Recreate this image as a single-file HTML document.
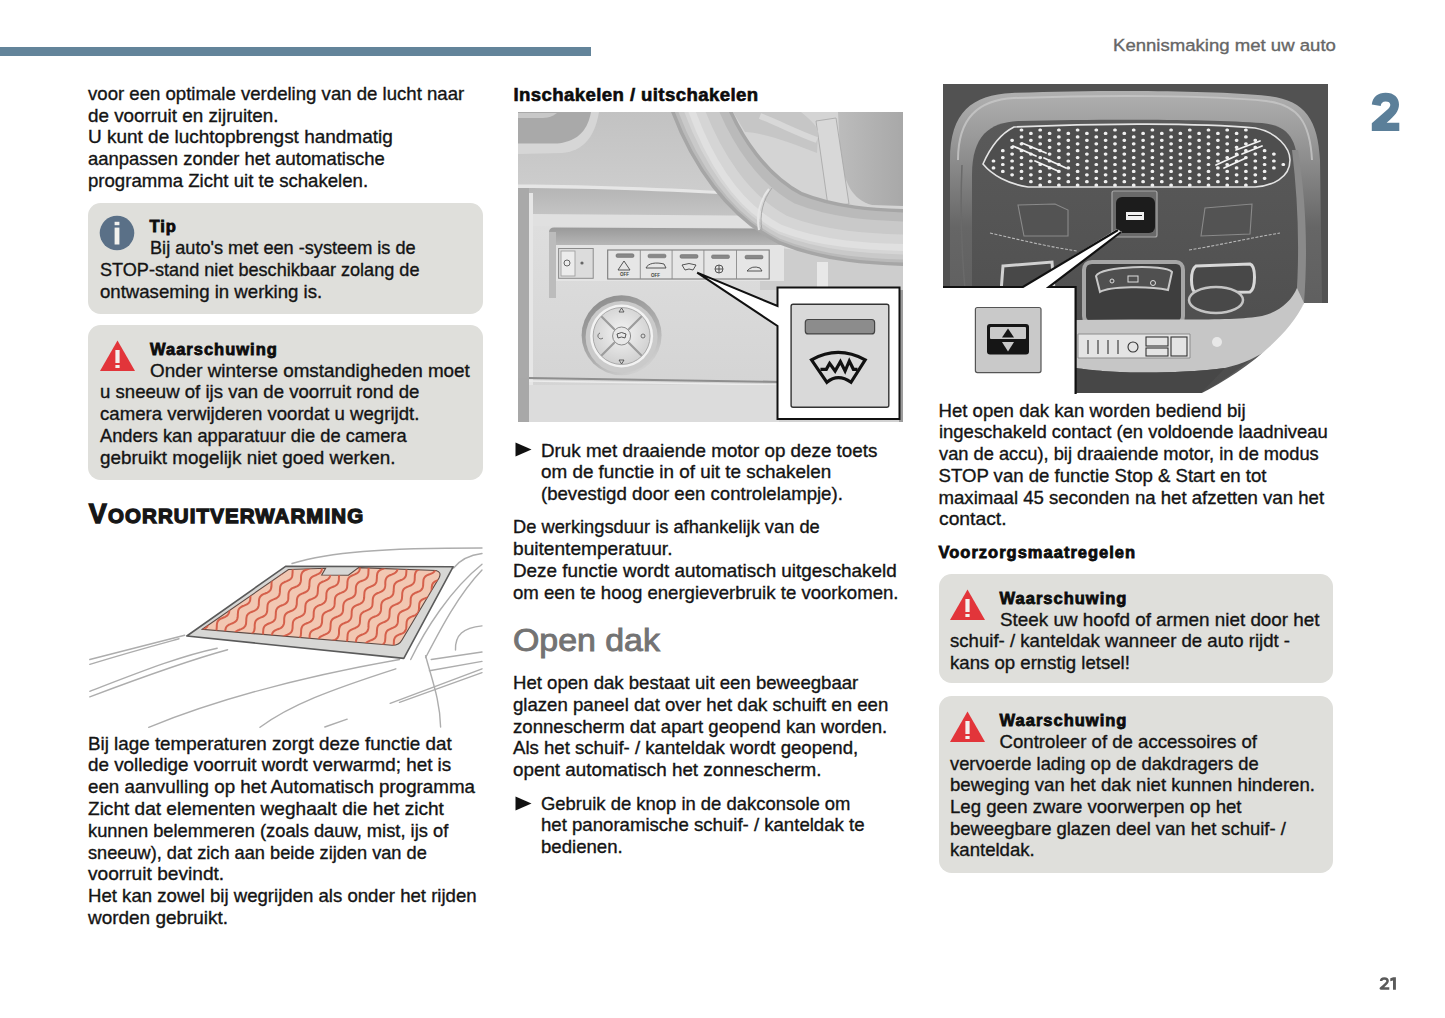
<!DOCTYPE html>
<html><head><meta charset="utf-8"><style>
html,body{margin:0;padding:0;background:#fff;}
body{width:1445px;height:1018px;position:relative;overflow:hidden;font-family:"Liberation Sans",sans-serif;}
.t{position:absolute;white-space:nowrap;-webkit-text-stroke:0.35px currentColor;}
.box{position:absolute;background:#dfdfdb;}
.ic{position:absolute;}
.im{position:absolute;}
</style></head><body>
<div style="position:absolute;left:0;top:46.6px;width:590.5px;height:9.4px;background:#63849a"></div>
<div class="t" style="left:1112.5px;top:35.34px;font-size:17.2px;line-height:20px;font-weight:400;color:#666666;transform:scaleX(1.08);transform-origin:0 0;">Kennismaking met uw auto</div>
<svg class="ic" style="left:1366px;top:88px" width="40" height="48" viewBox="1366 88 40 48"><path d="M1371.8,104.6 C1372.5,97 1378,92.7 1385.6,92.7 C1394,92.7 1399,97.5 1399,104.6 C1399,111 1395,116 1386.6,122.7 L1399.3,122.7 L1399.3,131 L1371.8,131 L1371.8,123.3 L1387.5,109.5 C1389.5,107.6 1390.3,106.3 1390.3,104.8 C1390.3,102.5 1388.5,101.4 1385.6,101.4 C1382.7,101.4 1381,103 1380.7,106 Z" fill="#5b7f99"/></svg>
<svg class="ic" style="left:1376px;top:974px" width="24" height="19" viewBox="1376 974 24 19"><path d="M1381.1,981 C1381.1,978.9 1382.6,978.4 1384.3,978.4 C1386.2,978.4 1387.6,979.3 1387.6,981.1 C1387.6,983.4 1384.2,985.4 1380.8,988.5 L1389.3,988.5" fill="none" stroke="#5a5a5a" stroke-width="2.5" stroke-linejoin="round"/><path d="M1390.3,978.3 L1393.3,977.2 L1395.9,977.2 L1395.9,989.7 L1393,989.7 L1393,980.5 L1390.3,981.3 Z" fill="#5a5a5a"/></svg>
<div class="t" style="left:88px;top:82.81px;font-size:18.6px;line-height:21.7px;font-weight:400;color:#141414;">voor een optimale verdeling van de lucht naar<br><span style="display:inline-block;transform:scaleX(1.0128);transform-origin:0 0">de voorruit en zijruiten.</span><br><span style="display:inline-block;transform:scaleX(1.0201);transform-origin:0 0">U kunt de luchtopbrengst handmatig</span><br><span style="display:inline-block;transform:scaleX(0.9900);transform-origin:0 0">aanpassen zonder het automatische</span><br>programma Zicht uit te schakelen.</div>
<div class="box" style="left:88px;top:203px;width:395px;height:111px;border-radius:12.5px"></div>
<svg class="ic" style="left:99.4px;top:215.3px" width="36" height="36" viewBox="0 0 36 36"><circle cx="18" cy="18" r="17.3" fill="#5a7087"/><rect x="15.6" y="6.8" width="4.8" height="3.4" fill="#f2f2ee"/><rect x="15.6" y="12.6" width="4.8" height="16.9" fill="#f2f2ee"/></svg><div class="t" style="left:149.5px;top:216.13px;font-size:16.5px;line-height:21.7px;font-weight:700;color:#0c0c0c;letter-spacing:1.0px;-webkit-text-stroke:0.8px #0c0c0c;">Tip</div>
<div class="t" style="left:149.5px;top:237.21px;font-size:18.6px;line-height:21.7px;font-weight:400;color:#141414;"><span style="display:inline-block;transform:scaleX(0.9758);transform-origin:0 0">Bij auto's met een -systeem is de</span></div>
<div class="t" style="left:100px;top:259.01px;font-size:18.6px;line-height:21.7px;font-weight:400;color:#141414;"><span style="display:inline-block;transform:scaleX(0.9729);transform-origin:0 0">STOP-stand niet beschikbaar zolang de</span><br>ontwaseming in werking is.</div>
<div class="box" style="left:88px;top:325px;width:395px;height:154.5px;border-radius:12.5px"></div>
<svg class="ic" style="left:100px;top:340px" width="36" height="32" viewBox="0 0 36 32"><path d="M17.5 0.5 L35 31 L0 31 Z" fill="#e2353a"/><rect x="15.4" y="10" width="4.2" height="13" fill="#f4f0ee"/><rect x="15.4" y="25" width="4.2" height="3" fill="#f4f0ee"/></svg><div class="t" style="left:150px;top:338.73px;font-size:16.5px;line-height:21.7px;font-weight:700;color:#0c0c0c;letter-spacing:1.0px;-webkit-text-stroke:0.8px #0c0c0c;">Waarschuwing</div>
<div class="t" style="left:150px;top:359.71px;font-size:18.6px;line-height:21.7px;font-weight:400;color:#141414;"><span style="display:inline-block;transform:scaleX(1.0146);transform-origin:0 0">Onder winterse omstandigheden moet</span></div>
<div class="t" style="left:100px;top:381.41px;font-size:18.6px;line-height:21.7px;font-weight:400;color:#141414;">u sneeuw of ijs van de voorruit rond de<br>camera verwijderen voordat u wegrijdt.<br><span style="display:inline-block;transform:scaleX(0.9821);transform-origin:0 0">Anders kan apparatuur die de camera</span><br><span style="display:inline-block;transform:scaleX(1.0137);transform-origin:0 0">gebruikt mogelijk niet goed werken.</span></div>
<div class="t" style="left:88.8px;top:499.14px;font-size:27px;line-height:30px;font-weight:700;color:#161616;letter-spacing:1.1px;-webkit-text-stroke:1.3px #161616;">V<span style="font-size:20.5px">OORRUITVERWARMING</span></div>
<svg class="im" style="left:88px;top:545px" width="396" height="184" viewBox="88 545 396 184">
<defs>

<clipPath id="cpw"><rect x="88" y="545" width="396" height="183"/></clipPath>
<clipPath id="cpg"><path d="M202.3,629.3 L288.5,569.5 L325.6,568.3 L321.7,575 L348.4,575.3 L358.6,567.6 L436,570.5 Q442,572 439,578 L402,640 Q399,645.5 392,645.3 Z"/></clipPath></defs>
<g clip-path="url(#cpw)" fill="none" stroke="#adadad" stroke-width="1.4" stroke-linecap="round">
<path d="M292,563.5 C330,552 380,548 482,548"/>
<path d="M453.6,568 C460,560 470,555 482,553.5"/>
<path d="M482,564.3 C450,590 425,630 410.7,659.5"/>
<path d="M482,569.9 C458,595 440,630 425.6,657.6"/>
<path d="M455.5,650 C455,635 463,627.8 482,625.9"/>
<path d="M431.2,659.5 L482,652"/>
<path d="M429.4,670.7 L482,661.4"/>
<path d="M425.6,655.8 C432,680 440,700 440.6,727"/>
<path d="M390.2,703.4 L482,668.8"/>
<path d="M399.5,702.4 L482,672.6"/>
<path d="M399.5,659.5 C340,670 240,690 148.7,727.3"/>
<path d="M395.8,668.8 C330,690 290,705 260,727.3"/>
<path d="M324.8,727 L347.2,719.2"/>
<path d="M89.8,659.5 L184.7,635.3"/>
<path d="M89.8,664.4 C130,652 160,644 179,638.8"/>
<path d="M89.8,691.3 C140,672 180,656 217.2,648.2"/>
<path d="M89.8,696.9 C140,678 190,660 227.6,649.8"/>
</g>
<path d="M285.6,566.3 L453.2,566.7 L403.8,658.4 L186.8,636 Z" fill="#d7d7d5" stroke="#5a5a5a" stroke-width="1.6" stroke-linejoin="round"/>
<path d="M202.3,629.3 L288.5,569.5 L325.6,568.3 L321.7,575 L348.4,575.3 L358.6,567.6 L436,570.5 Q442,572 439,578 L402,640 Q399,645.5 392,645.3 Z" fill="#f2c7b2" stroke="#5c4a44" stroke-width="1.1"/>
<g clip-path="url(#cpg)"><path d="M170.3,583.2 L171.4,582.7 L172.5,582.3 L173.6,581.8 L174.6,581.3 L175.6,580.8 L176.5,580.2 L177.2,579.5 L177.8,578.7 L178.2,577.7 L178.5,576.7 L178.6,575.6 L178.7,574.4 L178.8,573.3 L178.8,572.1 L178.9,570.9 L179.1,569.8 L179.3,568.8 L179.8,567.8 L180.3,567.0 L181.1,566.3 L181.9,565.7 L182.9,565.2 L184.0,564.7 L185.1,564.2 L186.2,563.8 L187.2,563.3 L188.2,562.8 L189.1,562.2 L189.8,561.5 L190.4,560.6 L190.8,559.7 L191.1,558.7 L191.3,557.6 L191.3,556.4 L191.4,555.2 M170.4,605.3 L171.4,604.7 L172.3,604.1 L173.0,603.4 L173.6,602.6 L174.0,601.7 L174.3,600.6 L174.5,599.5 L174.5,598.4 L174.6,597.2 L174.6,596.0 L174.7,594.8 L174.9,593.7 L175.2,592.7 L175.6,591.8 L176.2,591.0 L176.9,590.2 L177.8,589.6 L178.7,589.1 L179.8,588.6 L180.9,588.2 L182.0,587.7 L183.1,587.2 L184.0,586.7 L184.9,586.1 L185.6,585.4 L186.2,584.6 L186.6,583.6 L186.9,582.6 L187.1,581.5 L187.2,580.4 L187.2,579.2 L187.2,578.0 L187.3,576.8 L187.5,575.7 L187.8,574.7 L188.2,573.8 L188.8,572.9 L189.5,572.2 L190.4,571.6 L191.3,571.1 L192.4,570.6 L193.5,570.1 L194.6,569.7 L195.7,569.2 L196.7,568.7 L197.5,568.1 L198.2,567.4 L198.8,566.5 L199.2,565.6 L199.5,564.6 L199.7,563.5 L199.8,562.3 L199.8,561.1 L199.9,559.9 L200.0,558.8 L200.1,557.7 L200.4,556.7 L200.8,555.7 M170.1,624.6 L170.3,623.5 L170.4,622.3 L170.4,621.1 L170.4,619.9 L170.5,618.8 L170.7,617.7 L171.0,616.6 L171.4,615.7 L172.0,614.9 L172.7,614.2 L173.6,613.6 L174.5,613.0 L175.6,612.5 L176.7,612.1 L177.8,611.7 L178.9,611.2 L179.9,610.6 L180.7,610.0 L181.4,609.3 L182.0,608.5 L182.4,607.6 L182.7,606.5 L182.9,605.4 L183.0,604.3 L183.0,603.1 L183.1,601.9 L183.2,600.7 L183.3,599.6 L183.6,598.6 L184.0,597.7 L184.6,596.9 L185.3,596.2 L186.2,595.5 L187.2,595.0 L188.2,594.5 L189.3,594.1 L190.4,593.6 L191.5,593.2 L192.5,592.6 L193.3,592.0 L194.1,591.3 L194.6,590.5 L195.1,589.5 L195.3,588.5 L195.5,587.4 L195.6,586.3 L195.6,585.1 L195.7,583.9 L195.8,582.7 L195.9,581.6 L196.2,580.6 L196.6,579.7 L197.2,578.8 L197.9,578.1 L198.8,577.5 L199.8,577.0 L200.8,576.5 L202.0,576.1 L203.1,575.6 L204.1,575.1 L205.1,574.6 L206.0,574.0 L206.7,573.3 L207.3,572.4 L207.7,571.5 L208.0,570.5 L208.1,569.4 L208.2,568.2 L208.3,567.0 L208.3,565.9 L208.4,564.7 L208.6,563.6 L208.8,562.6 L209.3,561.6 L209.8,560.8 L210.6,560.1 L211.4,559.5 L212.4,559.0 L213.5,558.5 L214.6,558.0 L215.7,557.6 L216.7,557.1 L217.7,556.6 L218.6,556.0 L219.3,555.2 M170.4,637.0 L171.4,636.5 L172.5,636.0 L173.6,635.6 L174.7,635.1 L175.7,634.6 L176.5,634.0 L177.3,633.2 L177.8,632.4 L178.3,631.5 L178.5,630.5 L178.7,629.4 L178.8,628.2 L178.8,627.0 L178.9,625.8 L179.0,624.7 L179.1,623.6 L179.4,622.5 L179.8,621.6 L180.4,620.8 L181.1,620.1 L182.0,619.5 L183.0,618.9 L184.0,618.5 L185.2,618.0 L186.3,617.6 L187.3,617.1 L188.3,616.5 L189.2,615.9 L189.9,615.2 L190.5,614.4 L190.9,613.5 L191.2,612.5 L191.3,611.3 L191.4,610.2 L191.5,609.0 L191.5,607.8 L191.6,606.6 L191.8,605.5 L192.0,604.5 L192.5,603.6 L193.0,602.8 L193.8,602.1 L194.6,601.4 L195.6,600.9 L196.7,600.4 L197.8,600.0 L198.9,599.5 L199.9,599.1 L200.9,598.5 L201.8,597.9 L202.5,597.2 L203.1,596.4 L203.5,595.5 L203.8,594.4 L204.0,593.3 L204.0,592.2 L204.1,591.0 L204.1,589.8 L204.2,588.6 L204.4,587.5 L204.7,586.5 L205.1,585.6 L205.7,584.8 L206.4,584.0 L207.2,583.4 L208.2,582.9 L209.3,582.4 L210.4,582.0 L211.5,581.5 L212.6,581.0 L213.5,580.5 L214.4,579.9 L215.1,579.2 L215.7,578.4 L216.1,577.4 L216.4,576.4 L216.6,575.3 L216.7,574.1 L216.7,573.0 L216.7,571.8 L216.8,570.6 L217.0,569.5 L217.3,568.5 L217.7,567.6 L218.3,566.7 L219.0,566.0 L219.9,565.4 L220.8,564.9 L221.9,564.4 L223.0,563.9 L224.1,563.5 L225.2,563.0 L226.2,562.5 L227.0,561.9 L227.7,561.2 L228.3,560.3 L228.7,559.4 L229.0,558.4 L229.2,557.3 L229.3,556.1 M174.4,654.4 L174.5,653.3 L174.6,652.1 L174.7,650.9 L174.7,649.8 L174.8,648.6 L175.0,647.5 L175.2,646.5 L175.7,645.5 L176.2,644.7 L177.0,644.0 L177.8,643.4 L178.8,642.9 L179.9,642.4 L181.0,641.9 L182.1,641.5 L183.1,641.0 L184.1,640.5 L185.0,639.9 L185.7,639.1 L186.3,638.3 L186.7,637.4 L187.0,636.4 L187.2,635.3 L187.2,634.1 L187.3,632.9 L187.3,631.7 L187.4,630.6 L187.6,629.5 L187.9,628.4 L188.3,627.5 L188.9,626.7 L189.6,626.0 L190.4,625.4 L191.4,624.8 L192.5,624.4 L193.6,623.9 L194.7,623.5 L195.8,623.0 L196.7,622.5 L197.6,621.8 L198.3,621.1 L198.9,620.3 L199.3,619.4 L199.6,618.4 L199.8,617.3 L199.9,616.1 L199.9,614.9 L199.9,613.7 L200.0,612.6 L200.2,611.4 L200.5,610.4 L200.9,609.5 L201.5,608.7 L202.2,608.0 L203.1,607.4 L204.0,606.8 L205.1,606.3 L206.2,605.9 L207.3,605.4 L208.4,605.0 L209.4,604.4 L210.2,603.8 L210.9,603.1 L211.5,602.3 L211.9,601.4 L212.2,600.3 L212.4,599.2 L212.5,598.1 L212.5,596.9 L212.6,595.7 L212.6,594.5 L212.8,593.4 L213.1,592.4 L213.5,591.5 L214.1,590.7 L214.8,589.9 L215.7,589.3 L216.7,588.8 L217.7,588.3 L218.8,587.9 L219.9,587.4 L221.0,586.9 L222.0,586.4 L222.8,585.8 L223.6,585.1 L224.1,584.3 L224.6,583.3 L224.8,582.3 L225.0,581.2 L225.1,580.1 L225.1,578.9 L225.2,577.7 L225.3,576.5 L225.4,575.4 L225.7,574.4 L226.1,573.5 L226.7,572.6 L227.4,571.9 L228.3,571.3 L229.3,570.8 L230.3,570.3 L231.4,569.9 L232.6,569.4 L233.6,568.9 L234.6,568.4 L235.5,567.8 L236.2,567.1 L236.8,566.2 L237.2,565.3 L237.5,564.3 L237.6,563.2 L237.7,562.0 L237.8,560.8 L237.8,559.6 L237.9,558.5 L238.1,557.4 L238.3,556.4 L238.8,555.4 M183.2,654.5 L183.4,653.4 L183.7,652.4 L184.1,651.5 L184.7,650.6 L185.4,649.9 L186.3,649.3 L187.2,648.8 L188.3,648.3 L189.4,647.8 L190.5,647.4 L191.6,646.9 L192.6,646.4 L193.4,645.8 L194.1,645.1 L194.7,644.2 L195.1,643.3 L195.4,642.3 L195.6,641.2 L195.7,640.0 L195.7,638.8 L195.8,637.6 L195.8,636.5 L196.0,635.4 L196.3,634.4 L196.7,633.4 L197.3,632.6 L198.0,631.9 L198.9,631.3 L199.9,630.7 L200.9,630.3 L202.0,629.8 L203.1,629.4 L204.2,628.9 L205.2,628.4 L206.0,627.7 L206.8,627.0 L207.3,626.2 L207.8,625.3 L208.0,624.3 L208.2,623.2 L208.3,622.0 L208.3,620.8 L208.4,619.6 L208.5,618.5 L208.6,617.4 L208.9,616.3 L209.3,615.4 L209.9,614.6 L210.6,613.9 L211.5,613.3 L212.5,612.7 L213.5,612.2 L214.6,611.8 L215.8,611.4 L216.8,610.9 L217.8,610.3 L218.7,609.7 L219.4,609.0 L220.0,608.2 L220.4,607.3 L220.7,606.2 L220.8,605.1 L220.9,604.0 L221.0,602.8 L221.0,601.6 L221.1,600.4 L221.3,599.3 L221.5,598.3 L222.0,597.4 L222.5,596.6 L223.3,595.9 L224.1,595.2 L225.1,594.7 L226.2,594.2 L227.3,593.8 L228.4,593.3 L229.4,592.9 L230.4,592.3 L231.3,591.7 L232.0,591.0 L232.6,590.2 L233.0,589.2 L233.3,588.2 L233.4,587.1 L233.5,586.0 L233.6,584.8 L233.6,583.6 L233.7,582.4 L233.9,581.3 L234.2,580.3 L234.6,579.4 L235.2,578.5 L235.9,577.8 L236.7,577.2 L237.7,576.7 L238.8,576.2 L239.9,575.8 L241.0,575.3 L242.0,574.8 L243.0,574.3 L243.9,573.7 L244.6,573.0 L245.2,572.1 L245.6,571.2 L245.9,570.2 L246.1,569.1 L246.1,567.9 L246.2,566.7 L246.2,565.6 L246.3,564.4 L246.5,563.3 L246.8,562.3 L247.2,561.3 L247.8,560.5 L248.5,559.8 L249.4,559.2 L250.3,558.7 L251.4,558.2 L252.5,557.7 L253.6,557.3 L254.7,556.8 L255.6,556.3 L256.5,555.7 M195.7,654.7 L196.7,654.2 L197.8,653.8 L199.0,653.3 L200.0,652.8 L201.0,652.3 L201.9,651.7 L202.6,651.0 L203.2,650.1 L203.6,649.2 L203.9,648.2 L204.0,647.1 L204.1,645.9 L204.2,644.7 L204.2,643.6 L204.3,642.4 L204.5,641.3 L204.7,640.3 L205.2,639.3 L205.7,638.5 L206.5,637.8 L207.3,637.2 L208.3,636.7 L209.4,636.2 L210.5,635.7 L211.6,635.3 L212.6,634.8 L213.6,634.3 L214.5,633.7 L215.2,632.9 L215.8,632.1 L216.2,631.2 L216.5,630.2 L216.6,629.1 L216.7,627.9 L216.8,626.7 L216.8,625.5 L216.9,624.4 L217.1,623.3 L217.4,622.2 L217.8,621.3 L218.4,620.5 L219.1,619.8 L219.9,619.2 L220.9,618.6 L222.0,618.2 L223.1,617.7 L224.2,617.3 L225.2,616.8 L226.2,616.2 L227.1,615.6 L227.8,614.9 L228.4,614.1 L228.8,613.2 L229.1,612.2 L229.3,611.1 L229.3,609.9 L229.4,608.7 L229.4,607.5 L229.5,606.3 L229.7,605.2 L230.0,604.2 L230.4,603.3 L231.0,602.5 L231.7,601.8 L232.6,601.1 L233.5,600.6 L234.6,600.1 L235.7,599.7 L236.8,599.2 L237.9,598.8 L238.8,598.2 L239.7,597.6 L240.4,596.9 L241.0,596.1 L241.4,595.2 L241.7,594.1 L241.9,593.0 L242.0,591.9 L242.0,590.7 L242.1,589.5 L242.1,588.3 L242.3,587.2 L242.6,586.2 L243.0,585.3 L243.6,584.5 L244.3,583.7 L245.2,583.1 L246.2,582.6 L247.2,582.1 L248.3,581.7 L249.4,581.2 L250.5,580.7 L251.5,580.2 L252.3,579.6 L253.1,578.9 L253.6,578.1 L254.0,577.1 L254.3,576.1 L254.5,575.0 L254.6,573.8 L254.6,572.7 L254.7,571.5 L254.8,570.3 L254.9,569.2 L255.2,568.2 L255.6,567.3 L256.2,566.4 L256.9,565.7 L257.8,565.1 L258.8,564.6 L259.8,564.1 L260.9,563.6 L262.0,563.2 L263.1,562.7 L264.1,562.2 L264.9,561.6 L265.7,560.9 L266.2,560.0 L266.7,559.1 L267.0,558.1 L267.1,557.0 L267.2,555.8 M212.3,654.1 L212.5,653.0 L212.5,651.8 L212.6,650.6 L212.6,649.5 L212.7,648.3 L212.9,647.2 L213.2,646.2 L213.6,645.2 L214.2,644.4 L214.9,643.7 L215.8,643.1 L216.7,642.6 L217.8,642.1 L218.9,641.6 L220.0,641.2 L221.1,640.7 L222.0,640.2 L222.9,639.6 L223.6,638.8 L224.2,638.0 L224.6,637.1 L224.9,636.1 L225.1,635.0 L225.2,633.8 L225.2,632.6 L225.3,631.4 L225.3,630.3 L225.5,629.2 L225.8,628.2 L226.2,627.2 L226.8,626.4 L227.5,625.7 L228.4,625.1 L229.4,624.5 L230.4,624.1 L231.5,623.6 L232.6,623.2 L233.7,622.7 L234.7,622.2 L235.5,621.5 L236.3,620.8 L236.8,620.0 L237.2,619.1 L237.5,618.1 L237.7,617.0 L237.8,615.8 L237.8,614.6 L237.9,613.4 L238.0,612.3 L238.1,611.2 L238.4,610.1 L238.8,609.2 L239.4,608.4 L240.1,607.7 L241.0,607.1 L242.0,606.5 L243.0,606.0 L244.1,605.6 L245.2,605.1 L246.3,604.7 L247.3,604.1 L248.1,603.5 L248.9,602.8 L249.4,602.0 L249.9,601.1 L250.2,600.0 L250.3,598.9 L250.4,597.8 L250.4,596.6 L250.5,595.4 L250.6,594.2 L250.7,593.1 L251.0,592.1 L251.5,591.2 L252.0,590.4 L252.7,589.7 L253.6,589.0 L254.6,588.5 L255.7,588.0 L256.8,587.6 L257.9,587.1 L258.9,586.6 L259.9,586.1 L260.8,585.5 L261.5,584.8 L262.1,584.0 L262.5,583.0 L262.8,582.0 L262.9,580.9 L263.0,579.8 L263.1,578.6 L263.1,577.4 L263.2,576.2 L263.4,575.1 L263.6,574.1 L264.1,573.2 L264.6,572.3 L265.4,571.6 L266.2,571.0 L267.2,570.5 L268.3,570.0 L269.4,569.6 L270.5,569.1 L271.5,568.6 L272.5,568.1 L273.4,567.5 L274.1,566.8 L274.7,565.9 L275.1,565.0 L275.4,564.0 L275.6,562.9 L275.6,561.7 L275.7,560.5 L275.7,559.4 L275.8,558.2 L276.0,557.1 L276.3,556.1 L276.7,555.1 M221.2,654.2 L221.3,653.1 L221.6,652.1 L222.0,651.2 L222.6,650.3 L223.3,649.6 L224.2,649.0 L225.2,648.5 L226.2,648.0 L227.3,647.5 L228.4,647.1 L229.5,646.6 L230.5,646.1 L231.3,645.5 L232.1,644.8 L232.6,643.9 L233.1,643.0 L233.4,642.0 L233.5,640.9 L233.6,639.7 L233.6,638.5 L233.7,637.3 L233.8,636.2 L233.9,635.1 L234.2,634.1 L234.7,633.1 L235.2,632.3 L235.9,631.6 L236.8,631.0 L237.8,630.4 L238.9,630.0 L240.0,629.5 L241.1,629.1 L242.1,628.6 L243.1,628.1 L244.0,627.4 L244.7,626.7 L245.3,625.9 L245.7,625.0 L246.0,624.0 L246.1,622.9 L246.2,621.7 L246.3,620.5 L246.3,619.3 L246.4,618.2 L246.6,617.1 L246.8,616.0 L247.3,615.1 L247.8,614.3 L248.6,613.6 L249.4,613.0 L250.4,612.4 L251.5,612.0 L252.6,611.5 L253.7,611.1 L254.7,610.6 L255.7,610.0 L256.6,609.4 L257.3,608.7 L257.9,607.9 L258.3,607.0 L258.6,605.9 L258.8,604.8 L258.8,603.7 L258.9,602.5 L258.9,601.3 L259.0,600.1 L259.2,599.0 L259.5,598.0 L259.9,597.1 L260.5,596.3 L261.2,595.6 L262.1,594.9 L263.0,594.4 L264.1,593.9 L265.2,593.5 L266.3,593.0 L267.4,592.6 L268.3,592.0 L269.2,591.4 L269.9,590.7 L270.5,589.9 L270.9,588.9 L271.2,587.9 L271.4,586.8 L271.5,585.7 L271.5,584.5 L271.5,583.3 L271.6,582.1 L271.8,581.0 L272.1,580.0 L272.5,579.1 L273.1,578.3 L273.8,577.5 L274.7,576.9 L275.6,576.4 L276.7,575.9 L277.8,575.5 L278.9,575.0 L280.0,574.5 L281.0,574.0 L281.8,573.4 L282.5,572.7 L283.1,571.9 L283.5,570.9 L283.8,569.9 L284.0,568.8 L284.1,567.6 L284.1,566.5 L284.2,565.3 L284.3,564.1 L284.4,563.0 L284.7,562.0 L285.1,561.0 L285.7,560.2 L286.4,559.5 L287.3,558.9 L288.3,558.4 L289.3,557.9 L290.4,557.4 L291.5,557.0 L292.6,556.5 L293.6,556.0 L294.4,555.4 M232.6,654.9 L233.6,654.4 L234.7,653.9 L235.8,653.5 L236.9,653.0 L237.9,652.5 L238.9,652.0 L239.8,651.4 L240.5,650.7 L241.1,649.8 L241.5,648.9 L241.8,647.9 L242.0,646.8 L242.0,645.6 L242.1,644.4 L242.1,643.3 L242.2,642.1 L242.4,641.0 L242.7,640.0 L243.1,639.0 L243.7,638.2 L244.4,637.5 L245.3,636.9 L246.2,636.4 L247.3,635.9 L248.4,635.4 L249.5,635.0 L250.6,634.5 L251.5,634.0 L252.4,633.4 L253.1,632.6 L253.7,631.8 L254.1,630.9 L254.4,629.9 L254.6,628.8 L254.7,627.6 L254.7,626.4 L254.7,625.2 L254.8,624.1 L255.0,623.0 L255.3,621.9 L255.7,621.0 L256.3,620.2 L257.0,619.5 L257.9,618.9 L258.8,618.3 L259.9,617.9 L261.0,617.4 L262.1,617.0 L263.2,616.5 L264.2,616.0 L265.0,615.3 L265.7,614.6 L266.3,613.8 L266.7,612.9 L267.0,611.9 L267.2,610.8 L267.3,609.6 L267.3,608.4 L267.4,607.2 L267.5,606.0 L267.6,604.9 L267.9,603.9 L268.3,603.0 L268.9,602.2 L269.6,601.5 L270.5,600.9 L271.5,600.3 L272.5,599.8 L273.6,599.4 L274.7,598.9 L275.8,598.5 L276.8,597.9 L277.6,597.3 L278.4,596.6 L278.9,595.8 L279.4,594.9 L279.6,593.8 L279.8,592.7 L279.9,591.6 L279.9,590.4 L280.0,589.2 L280.1,588.0 L280.2,586.9 L280.5,585.9 L280.9,585.0 L281.5,584.2 L282.2,583.4 L283.1,582.8 L284.1,582.3 L285.1,581.8 L286.3,581.4 L287.4,580.9 L288.4,580.4 L289.4,579.9 L290.3,579.3 L291.0,578.6 L291.6,577.8 L292.0,576.8 L292.3,575.8 L292.4,574.7 L292.5,573.5 L292.6,572.4 L292.6,571.2 L292.7,570.0 L292.9,568.9 L293.1,567.9 L293.6,567.0 L294.1,566.1 L294.9,565.4 L295.7,564.8 L296.7,564.3 L297.8,563.8 L298.9,563.3 L300.0,562.9 L301.0,562.4 L302.0,561.9 L302.9,561.3 L303.6,560.6 L304.2,559.7 L304.6,558.8 L304.9,557.8 L305.1,556.7 L305.1,555.5 M249.9,654.8 L250.2,653.8 L250.4,652.7 L250.5,651.5 L250.5,650.4 L250.6,649.2 L250.7,648.0 L250.8,646.9 L251.1,645.9 L251.5,644.9 L252.1,644.1 L252.8,643.4 L253.7,642.8 L254.7,642.3 L255.7,641.8 L256.8,641.3 L257.9,640.9 L259.0,640.4 L260.0,639.9 L260.8,639.3 L261.6,638.6 L262.1,637.7 L262.6,636.8 L262.8,635.8 L263.0,634.7 L263.1,633.5 L263.1,632.3 L263.2,631.1 L263.3,630.0 L263.4,628.9 L263.7,627.9 L264.1,626.9 L264.7,626.1 L265.4,625.4 L266.3,624.8 L267.3,624.2 L268.3,623.8 L269.5,623.3 L270.6,622.9 L271.6,622.4 L272.6,621.9 L273.5,621.2 L274.2,620.5 L274.8,619.7 L275.2,618.8 L275.5,617.8 L275.6,616.7 L275.7,615.5 L275.8,614.3 L275.8,613.1 L275.9,612.0 L276.1,610.9 L276.3,609.8 L276.8,608.9 L277.3,608.1 L278.1,607.4 L278.9,606.8 L279.9,606.2 L281.0,605.7 L282.1,605.3 L283.2,604.9 L284.2,604.4 L285.2,603.8 L286.1,603.2 L286.8,602.5 L287.4,601.7 L287.8,600.8 L288.1,599.7 L288.3,598.6 L288.3,597.5 L288.4,596.3 L288.4,595.1 L288.5,593.9 L288.7,592.8 L289.0,591.8 L289.4,590.9 L290.0,590.1 L290.7,589.4 L291.5,588.7 L292.5,588.2 L293.6,587.7 L294.7,587.3 L295.8,586.8 L296.9,586.4 L297.8,585.8 L298.7,585.2 L299.4,584.5 L300.0,583.7 L300.4,582.7 L300.7,581.7 L300.9,580.6 L301.0,579.5 L301.0,578.3 L301.0,577.1 L301.1,575.9 L301.3,574.8 L301.6,573.8 L302.0,572.9 L302.6,572.0 L303.3,571.3 L304.2,570.7 L305.1,570.2 L306.2,569.7 L307.3,569.3 L308.4,568.8 L309.5,568.3 L310.5,567.8 L311.3,567.2 L312.0,566.5 L312.6,565.6 L313.0,564.7 L313.3,563.7 L313.5,562.6 L313.6,561.4 L313.6,560.2 L313.7,559.1 L313.7,557.9 L313.9,556.8 L314.2,555.8 M259.1,653.9 L259.3,652.8 L259.5,651.8 L260.0,650.9 L260.5,650.0 L261.3,649.3 L262.1,648.7 L263.1,648.2 L264.2,647.7 L265.3,647.2 L266.4,646.8 L267.4,646.3 L268.4,645.8 L269.3,645.2 L270.0,644.5 L270.6,643.6 L271.0,642.7 L271.3,641.7 L271.5,640.6 L271.5,639.4 L271.6,638.2 L271.6,637.0 L271.7,635.9 L271.9,634.8 L272.2,633.8 L272.6,632.8 L273.2,632.0 L273.9,631.3 L274.7,630.7 L275.7,630.2 L276.8,629.7 L277.9,629.2 L279.0,628.8 L280.1,628.3 L281.0,627.8 L281.9,627.2 L282.6,626.4 L283.2,625.6 L283.6,624.7 L283.9,623.7 L284.1,622.6 L284.2,621.4 L284.2,620.2 L284.2,619.0 L284.3,617.9 L284.5,616.8 L284.8,615.7 L285.2,614.8 L285.8,614.0 L286.5,613.3 L287.4,612.7 L288.3,612.1 L289.4,611.7 L290.5,611.2 L291.6,610.8 L292.7,610.3 L293.7,609.7 L294.5,609.1 L295.2,608.4 L295.8,607.6 L296.2,606.7 L296.5,605.6 L296.7,604.5 L296.8,603.4 L296.8,602.2 L296.9,601.0 L296.9,599.8 L297.1,598.7 L297.4,597.7 L297.8,596.8 L298.4,596.0 L299.1,595.3 L300.0,594.6 L301.0,594.1 L302.0,593.6 L303.1,593.2 L304.2,592.7 L305.3,592.3 L306.3,591.7 L307.1,591.1 L307.9,590.4 L308.4,589.6 L308.9,588.7 L309.1,587.6 L309.3,586.5 L309.4,585.4 L309.4,584.2 L309.5,583.0 L309.6,581.8 L309.7,580.7 L310.0,579.7 L310.4,578.8 L311.0,578.0 L311.7,577.2 L312.6,576.6 L313.6,576.1 L314.6,575.6 L315.7,575.2 L316.8,574.7 L317.9,574.2 L318.9,573.7 L319.8,573.1 L320.5,572.4 L321.1,571.6 L321.5,570.6 L321.8,569.6 L321.9,568.5 L322.0,567.3 L322.1,566.2 L322.1,565.0 L322.2,563.8 L322.4,562.7 L322.6,561.7 L323.1,560.8 L323.6,559.9 L324.4,559.2 L325.2,558.6 L326.2,558.1 L327.3,557.6 L328.4,557.1 L329.5,556.7 L330.5,556.2 L331.5,555.7 L332.4,555.1 M270.6,654.6 L271.5,654.1 L272.6,653.6 L273.7,653.2 L274.8,652.7 L275.9,652.2 L276.9,651.7 L277.7,651.1 L278.4,650.4 L279.0,649.5 L279.4,648.6 L279.7,647.6 L279.9,646.5 L280.0,645.3 L280.0,644.1 L280.1,643.0 L280.1,641.8 L280.3,640.7 L280.6,639.7 L281.0,638.7 L281.6,637.9 L282.3,637.2 L283.2,636.6 L284.2,636.1 L285.2,635.6 L286.3,635.1 L287.4,634.7 L288.5,634.2 L289.5,633.7 L290.3,633.1 L291.1,632.3 L291.6,631.5 L292.1,630.6 L292.3,629.6 L292.5,628.5 L292.6,627.3 L292.6,626.1 L292.7,624.9 L292.8,623.8 L292.9,622.7 L293.2,621.6 L293.6,620.7 L294.2,619.9 L294.9,619.2 L295.8,618.6 L296.8,618.0 L297.8,617.6 L298.9,617.1 L300.0,616.7 L301.1,616.2 L302.1,615.7 L303.0,615.0 L303.7,614.3 L304.3,613.5 L304.7,612.6 L305.0,611.6 L305.1,610.5 L305.2,609.3 L305.3,608.1 L305.3,606.9 L305.4,605.8 L305.6,604.6 L305.8,603.6 L306.3,602.7 L306.8,601.9 L307.6,601.2 L308.4,600.6 L309.4,600.0 L310.5,599.5 L311.6,599.1 L312.7,598.6 L313.7,598.2 L314.7,597.6 L315.6,597.0 L316.3,596.3 L316.9,595.5 L317.3,594.6 L317.6,593.5 L317.7,592.4 L317.8,591.3 L317.9,590.1 L317.9,588.9 L318.0,587.7 L318.2,586.6 L318.5,585.6 L318.9,584.7 L319.4,583.9 L320.2,583.1 L321.0,582.5 L322.0,582.0 L323.1,581.5 L324.2,581.1 L325.3,580.6 L326.3,580.1 L327.3,579.6 L328.2,579.0 L328.9,578.3 L329.5,577.5 L329.9,576.5 L330.2,575.5 L330.4,574.4 L330.4,573.3 L330.5,572.1 L330.5,570.9 L330.6,569.7 L330.8,568.6 L331.1,567.6 L331.5,566.7 L332.1,565.8 L332.8,565.1 L333.7,564.5 L334.6,564.0 L335.7,563.5 L336.8,563.0 L337.9,562.6 L339.0,562.1 L339.9,561.6 L340.8,561.0 L341.5,560.3 L342.1,559.4 L342.5,558.5 L342.8,557.5 L343.0,556.4 L343.1,555.2 M287.9,654.5 L288.2,653.5 L288.3,652.4 L288.4,651.2 L288.5,650.1 L288.5,648.9 L288.6,647.7 L288.8,646.6 L289.0,645.6 L289.5,644.7 L290.0,643.8 L290.8,643.1 L291.6,642.5 L292.6,642.0 L293.7,641.5 L294.8,641.0 L295.9,640.6 L296.9,640.1 L297.9,639.6 L298.8,639.0 L299.5,638.3 L300.1,637.4 L300.5,636.5 L300.8,635.5 L300.9,634.4 L301.0,633.2 L301.1,632.0 L301.1,630.8 L301.2,629.7 L301.4,628.6 L301.7,627.6 L302.1,626.6 L302.6,625.8 L303.4,625.1 L304.2,624.5 L305.2,623.9 L306.3,623.5 L307.4,623.0 L308.5,622.6 L309.5,622.1 L310.5,621.6 L311.4,620.9 L312.1,620.2 L312.7,619.4 L313.1,618.5 L313.4,617.5 L313.6,616.4 L313.6,615.2 L313.7,614.0 L313.7,612.8 L313.8,611.7 L314.0,610.6 L314.3,609.5 L314.7,608.6 L315.3,607.8 L316.0,607.1 L316.9,606.5 L317.8,605.9 L318.9,605.4 L320.0,605.0 L321.1,604.6 L322.2,604.1 L323.1,603.5 L324.0,602.9 L324.7,602.2 L325.3,601.4 L325.7,600.5 L326.0,599.4 L326.2,598.3 L326.3,597.2 L326.3,596.0 L326.4,594.8 L326.4,593.6 L326.6,592.5 L326.9,591.5 L327.3,590.6 L327.9,589.8 L328.6,589.1 L329.5,588.4 L330.5,587.9 L331.5,587.4 L332.6,587.0 L333.7,586.5 L334.8,586.1 L335.8,585.5 L336.6,584.9 L337.4,584.2 L337.9,583.4 L338.3,582.4 L338.6,581.4 L338.8,580.3 L338.9,579.2 L338.9,578.0 L339.0,576.8 L339.1,575.6 L339.2,574.5 L339.5,573.5 L339.9,572.6 L340.5,571.7 L341.2,571.0 L342.1,570.4 L343.1,569.9 L344.1,569.4 L345.2,569.0 L346.3,568.5 L347.4,568.0 L348.4,567.5 L349.2,566.9 L350.0,566.2 L350.5,565.3 L351.0,564.4 L351.2,563.4 L351.4,562.3 L351.5,561.1 L351.5,559.9 L351.6,558.8 L351.7,557.6 L351.8,556.5 L352.1,555.5 M296.9,654.8 L297.0,653.6 L297.2,652.5 L297.5,651.5 L297.9,650.6 L298.5,649.7 L299.2,649.0 L300.1,648.4 L301.0,647.9 L302.1,647.4 L303.2,647.0 L304.3,646.5 L305.4,646.0 L306.3,645.5 L307.2,644.9 L307.9,644.2 L308.5,643.3 L308.9,642.4 L309.2,641.4 L309.4,640.3 L309.5,639.1 L309.5,637.9 L309.6,636.7 L309.6,635.6 L309.8,634.5 L310.1,633.5 L310.5,632.5 L311.1,631.7 L311.8,631.0 L312.7,630.4 L313.7,629.9 L314.7,629.4 L315.8,628.9 L316.9,628.5 L318.0,628.0 L319.0,627.5 L319.8,626.9 L320.6,626.1 L321.1,625.3 L321.5,624.4 L321.8,623.4 L322.0,622.3 L322.1,621.1 L322.1,619.9 L322.2,618.7 L322.3,617.6 L322.4,616.5 L322.7,615.4 L323.1,614.5 L323.7,613.7 L324.4,613.0 L325.3,612.4 L326.3,611.8 L327.3,611.4 L328.4,610.9 L329.5,610.5 L330.6,610.0 L331.6,609.4 L332.4,608.8 L333.2,608.1 L333.7,607.3 L334.2,606.4 L334.4,605.4 L334.6,604.2 L334.7,603.1 L334.7,601.9 L334.8,600.7 L334.9,599.5 L335.0,598.4 L335.3,597.4 L335.7,596.5 L336.3,595.7 L337.0,595.0 L337.9,594.3 L338.9,593.8 L340.0,593.3 L341.1,592.9 L342.2,592.4 L343.2,592.0 L344.2,591.4 L345.1,590.8 L345.8,590.1 L346.4,589.3 L346.8,588.4 L347.1,587.3 L347.2,586.2 L347.3,585.1 L347.4,583.9 L347.4,582.7 L347.5,581.5 L347.7,580.4 L347.9,579.4 L348.4,578.5 L348.9,577.7 L349.7,576.9 L350.5,576.3 L351.5,575.8 L352.6,575.3 L353.7,574.9 L354.8,574.4 L355.8,573.9 L356.8,573.4 L357.7,572.8 L358.4,572.1 L359.0,571.3 L359.4,570.3 L359.7,569.3 L359.9,568.2 L359.9,567.0 L360.0,565.9 L360.0,564.7 L360.1,563.5 L360.3,562.4 L360.6,561.4 L361.0,560.5 L361.6,559.6 L362.3,558.9 L363.1,558.3 L364.1,557.8 L365.2,557.3 L366.3,556.8 L367.4,556.4 L368.5,555.9 L369.4,555.4 M307.6,654.9 L308.5,654.3 L309.5,653.8 L310.5,653.3 L311.6,652.9 L312.7,652.4 L313.8,651.9 L314.8,651.4 L315.6,650.8 L316.4,650.1 L316.9,649.2 L317.4,648.3 L317.6,647.3 L317.8,646.2 L317.9,645.0 L317.9,643.8 L318.0,642.7 L318.1,641.5 L318.2,640.4 L318.5,639.4 L318.9,638.4 L319.5,637.6 L320.2,636.9 L321.1,636.3 L322.1,635.8 L323.2,635.3 L324.3,634.8 L325.4,634.4 L326.4,633.9 L327.4,633.4 L328.3,632.8 L329.0,632.0 L329.6,631.2 L330.0,630.3 L330.3,629.3 L330.4,628.2 L330.5,627.0 L330.6,625.8 L330.6,624.6 L330.7,623.5 L330.9,622.4 L331.1,621.3 L331.6,620.4 L332.1,619.6 L332.9,618.9 L333.7,618.3 L334.7,617.7 L335.8,617.3 L336.9,616.8 L338.0,616.4 L339.0,615.9 L340.0,615.4 L340.9,614.7 L341.6,614.0 L342.2,613.2 L342.6,612.3 L342.9,611.3 L343.1,610.2 L343.1,609.0 L343.2,607.8 L343.2,606.6 L343.3,605.5 L343.5,604.4 L343.8,603.3 L344.2,602.4 L344.8,601.6 L345.5,600.9 L346.3,600.3 L347.3,599.7 L348.4,599.2 L349.5,598.8 L350.6,598.3 L351.7,597.9 L352.6,597.3 L353.5,596.7 L354.2,596.0 L354.8,595.2 L355.2,594.3 L355.5,593.2 L355.7,592.1 L355.8,591.0 L355.8,589.8 L355.8,588.6 L355.9,587.4 L356.1,586.3 L356.4,585.3 L356.8,584.4 L357.4,583.6 L358.1,582.8 L359.0,582.2 L359.9,581.7 L361.0,581.2 L362.1,580.8 L363.2,580.3 L364.3,579.8 L365.3,579.3 L366.1,578.7 L366.8,578.0 L367.4,577.2 L367.8,576.2 L368.1,575.2 L368.3,574.1 L368.4,573.0 L368.4,571.8 L368.5,570.6 L368.5,569.4 L368.7,568.3 L369.0,567.3 L369.4,566.4 L370.0,565.5 L370.7,564.8 L371.6,564.2 L372.6,563.7 L373.6,563.2 L374.7,562.8 L375.8,562.3 L376.9,561.8 L377.9,561.3 L378.7,560.7 L379.5,560.0 L380.0,559.1 L380.5,558.2 L380.7,557.2 L380.9,556.1 M325.8,654.2 L326.1,653.2 L326.3,652.1 L326.3,650.9 L326.4,649.8 L326.4,648.6 L326.5,647.4 L326.7,646.3 L327.0,645.3 L327.4,644.4 L328.0,643.5 L328.7,642.8 L329.5,642.2 L330.5,641.7 L331.6,641.2 L332.7,640.7 L333.8,640.3 L334.9,639.8 L335.8,639.3 L336.7,638.7 L337.4,638.0 L338.0,637.1 L338.4,636.2 L338.7,635.2 L338.9,634.1 L339.0,632.9 L339.0,631.7 L339.0,630.5 L339.1,629.4 L339.3,628.3 L339.6,627.3 L340.0,626.3 L340.6,625.5 L341.3,624.8 L342.2,624.2 L343.1,623.6 L344.2,623.2 L345.3,622.7 L346.4,622.3 L347.5,621.8 L348.5,621.3 L349.3,620.6 L350.0,619.9 L350.6,619.1 L351.0,618.2 L351.3,617.2 L351.5,616.1 L351.6,614.9 L351.6,613.7 L351.7,612.5 L351.7,611.4 L351.9,610.3 L352.2,609.2 L352.6,608.3 L353.2,607.5 L353.9,606.8 L354.8,606.2 L355.8,605.6 L356.8,605.1 L357.9,604.7 L359.0,604.3 L360.1,603.8 L361.1,603.2 L361.9,602.6 L362.7,601.9 L363.2,601.1 L363.7,600.2 L363.9,599.1 L364.1,598.0 L364.2,596.9 L364.2,595.7 L364.3,594.5 L364.4,593.3 L364.5,592.2 L364.8,591.2 L365.2,590.3 L365.8,589.5 L366.5,588.8 L367.4,588.1 L368.4,587.6 L369.4,587.1 L370.5,586.7 L371.7,586.2 L372.7,585.8 L373.7,585.2 L374.6,584.6 L375.3,583.9 L375.9,583.1 L376.3,582.1 L376.6,581.1 L376.7,580.0 L376.8,578.9 L376.9,577.7 L376.9,576.5 L377.0,575.3 L377.2,574.2 L377.4,573.2 L377.9,572.3 L378.4,571.4 L379.2,570.7 L380.0,570.1 L381.0,569.6 L382.1,569.1 L383.2,568.7 L384.3,568.2 L385.3,567.7 L386.3,567.2 L387.2,566.6 L387.9,565.9 L388.5,565.1 L388.9,564.1 L389.2,563.1 L389.3,562.0 L389.4,560.8 L389.5,559.6 L389.5,558.5 L389.6,557.3 L389.8,556.2 L390.1,555.2 M334.9,654.5 L334.9,653.3 L335.1,652.2 L335.4,651.2 L335.8,650.3 L336.4,649.4 L337.1,648.7 L338.0,648.1 L339.0,647.6 L340.0,647.1 L341.1,646.7 L342.2,646.2 L343.3,645.7 L344.3,645.2 L345.1,644.6 L345.9,643.9 L346.4,643.0 L346.9,642.1 L347.1,641.1 L347.3,640.0 L347.4,638.8 L347.4,637.6 L347.5,636.5 L347.6,635.3 L347.7,634.2 L348.0,633.2 L348.4,632.2 L349.0,631.4 L349.7,630.7 L350.6,630.1 L351.6,629.6 L352.6,629.1 L353.7,628.6 L354.9,628.2 L355.9,627.7 L356.9,627.2 L357.8,626.6 L358.5,625.8 L359.1,625.0 L359.5,624.1 L359.8,623.1 L359.9,622.0 L360.0,620.8 L360.1,619.6 L360.1,618.4 L360.2,617.3 L360.4,616.2 L360.6,615.1 L361.1,614.2 L361.6,613.4 L362.4,612.7 L363.2,612.1 L364.2,611.5 L365.3,611.1 L366.4,610.6 L367.5,610.2 L368.5,609.7 L369.5,609.1 L370.4,608.5 L371.1,607.8 L371.7,607.0 L372.1,606.1 L372.4,605.1 L372.5,604.0 L372.6,602.8 L372.7,601.6 L372.7,600.4 L372.8,599.2 L373.0,598.1 L373.3,597.1 L373.7,596.2 L374.3,595.4 L375.0,594.7 L375.8,594.0 L376.8,593.5 L377.9,593.0 L379.0,592.6 L380.1,592.1 L381.2,591.7 L382.1,591.1 L383.0,590.5 L383.7,589.8 L384.3,589.0 L384.7,588.1 L385.0,587.0 L385.2,585.9 L385.3,584.8 L385.3,583.6 L385.3,582.4 L385.4,581.2 L385.6,580.1 L385.9,579.1 L386.3,578.2 L386.9,577.4 L387.6,576.6 L388.5,576.0 L389.4,575.5 L390.5,575.0 L391.6,574.6 L392.7,574.1 L393.8,573.6 L394.7,573.1 L395.6,572.5 L396.3,571.8 L396.9,571.0 L397.3,570.0 L397.6,569.0 L397.8,567.9 L397.9,566.7 L397.9,565.6 L398.0,564.4 L398.0,563.2 L398.2,562.1 L398.5,561.1 L398.9,560.2 L399.5,559.3 L400.2,558.6 L401.1,558.0 L402.1,557.5 L403.1,557.0 L404.2,556.5 L405.3,556.1 L406.4,555.6 L407.4,555.1 M345.6,654.6 L346.4,654.0 L347.4,653.5 L348.5,653.0 L349.6,652.6 L350.7,652.1 L351.7,651.6 L352.7,651.1 L353.6,650.5 L354.3,649.8 L354.9,649.0 L355.3,648.0 L355.6,647.0 L355.7,645.9 L355.8,644.7 L355.9,643.5 L355.9,642.4 L356.0,641.2 L356.2,640.1 L356.5,639.1 L356.9,638.1 L357.5,637.3 L358.2,636.6 L359.0,636.0 L360.0,635.5 L361.1,635.0 L362.2,634.5 L363.3,634.1 L364.4,633.6 L365.3,633.1 L366.2,632.5 L366.9,631.7 L367.5,630.9 L367.9,630.0 L368.2,629.0 L368.4,627.9 L368.5,626.7 L368.5,625.5 L368.5,624.3 L368.6,623.2 L368.8,622.1 L369.1,621.1 L369.5,620.1 L370.1,619.3 L370.8,618.6 L371.7,618.0 L372.6,617.4 L373.7,617.0 L374.8,616.5 L375.9,616.1 L377.0,615.6 L377.9,615.1 L378.8,614.4 L379.5,613.7 L380.1,612.9 L380.5,612.0 L380.8,611.0 L381.0,609.9 L381.1,608.7 L381.1,607.5 L381.2,606.3 L381.2,605.2 L381.4,604.1 L381.7,603.0 L382.1,602.1 L382.7,601.3 L383.4,600.6 L384.3,600.0 L385.3,599.4 L386.3,598.9 L387.4,598.5 L388.5,598.0 L389.6,597.6 L390.6,597.0 L391.4,596.4 L392.2,595.7 L392.7,594.9 L393.2,594.0 L393.4,592.9 L393.6,591.8 L393.7,590.7 L393.7,589.5 L393.8,588.3 L393.9,587.1 L394.0,586.0 L394.3,585.0 L394.7,584.1 L395.3,583.3 L396.0,582.6 L396.9,581.9 L397.9,581.4 L398.9,580.9 L400.0,580.5 L401.1,580.0 L402.2,579.6 L403.2,579.0 L404.1,578.4 L404.8,577.7 L405.3,576.9 L405.8,575.9 L406.1,574.9 L406.2,573.8 L406.3,572.7 L406.4,571.5 L406.4,570.3 L406.5,569.1 L406.6,568.0 L406.9,567.0 L407.4,566.1 L407.9,565.2 L408.7,564.5 L409.5,563.9 L410.5,563.4 L411.6,562.9 L412.7,562.5 L413.8,562.0 L414.8,561.5 L415.8,561.0 L416.7,560.4 L417.4,559.7 L418.0,558.8 L418.4,557.9 L418.7,556.9 L418.8,555.8 M363.3,654.9 L363.7,653.9 L364.0,652.9 L364.2,651.8 L364.3,650.6 L364.3,649.5 L364.4,648.3 L364.4,647.1 L364.6,646.0 L364.9,645.0 L365.3,644.1 L365.9,643.2 L366.6,642.5 L367.5,641.9 L368.5,641.4 L369.5,640.9 L370.6,640.4 L371.7,640.0 L372.8,639.5 L373.8,639.0 L374.6,638.4 L375.4,637.7 L375.9,636.8 L376.4,635.9 L376.6,634.9 L376.8,633.8 L376.9,632.6 L376.9,631.4 L377.0,630.2 L377.1,629.1 L377.2,628.0 L377.5,627.0 L377.9,626.0 L378.5,625.2 L379.2,624.5 L380.1,623.9 L381.1,623.4 L382.1,622.9 L383.2,622.4 L384.3,622.0 L385.4,621.5 L386.4,621.0 L387.3,620.3 L388.0,619.6 L388.5,618.8 L389.0,617.9 L389.3,616.9 L389.4,615.8 L389.5,614.6 L389.6,613.4 L389.6,612.2 L389.7,611.1 L389.8,610.0 L390.1,608.9 L390.6,608.0 L391.1,607.2 L391.9,606.5 L392.7,605.9 L393.7,605.3 L394.8,604.9 L395.9,604.4 L397.0,604.0 L398.0,603.5 L399.0,602.9 L399.9,602.3 L400.6,601.6 L401.2,600.8 L401.6,599.9 L401.9,598.8 L402.0,597.7 L402.1,596.6 L402.2,595.4 L402.2,594.2 L402.3,593.0 L402.5,591.9 L402.8,590.9 L403.2,590.0 L403.7,589.2 L404.5,588.5 L405.3,587.8 L406.3,587.3 L407.4,586.8 L408.5,586.4 L409.6,585.9 L410.6,585.5 L411.6,584.9 L412.5,584.3 L413.2,583.6 L413.8,582.8 L414.2,581.8 L414.5,580.8 L414.7,579.7 L414.7,578.6 L414.8,577.4 L414.8,576.2 L414.9,575.0 L415.1,573.9 L415.4,572.9 L415.8,572.0 L416.4,571.2 L417.1,570.4 L418.0,569.8 L418.9,569.3 L420.0,568.8 L421.1,568.4 L422.2,567.9 L423.3,567.4 L424.2,566.9 L425.1,566.3 L425.8,565.6 L426.4,564.8 L426.8,563.8 L427.1,562.8 L427.3,561.7 L427.4,560.5 L427.4,559.4 L427.5,558.2 L427.5,557.0 L427.7,555.9 M372.8,654.2 L372.9,653.0 L373.0,651.9 L373.3,650.9 L373.8,650.0 L374.3,649.1 L375.1,648.4 L375.9,647.8 L376.9,647.3 L378.0,646.8 L379.1,646.4 L380.2,645.9 L381.2,645.4 L382.2,644.9 L383.1,644.3 L383.8,643.6 L384.4,642.7 L384.8,641.8 L385.1,640.8 L385.2,639.7 L385.3,638.5 L385.4,637.3 L385.4,636.2 L385.5,635.0 L385.7,633.9 L386.0,632.9 L386.4,631.9 L386.9,631.1 L387.7,630.4 L388.5,629.8 L389.5,629.3 L390.6,628.8 L391.7,628.3 L392.8,627.9 L393.8,627.4 L394.8,626.9 L395.7,626.3 L396.4,625.5 L397.0,624.7 L397.4,623.8 L397.7,622.8 L397.9,621.7 L397.9,620.5 L398.0,619.3 L398.0,618.1 L398.1,617.0 L398.3,615.9 L398.6,614.8 L399.0,613.9 L399.6,613.1 L400.3,612.4 L401.2,611.8 L402.1,611.2 L403.2,610.8 L404.3,610.3 L405.4,609.9 L406.5,609.4 L407.4,608.9 L408.3,608.2 L409.0,607.5 L409.6,606.7 L410.0,605.8 L410.3,604.8 L410.5,603.7 L410.6,602.5 L410.6,601.3 L410.7,600.1 L410.7,598.9 L410.9,597.8 L411.2,596.8 L411.6,595.9 L412.2,595.1 L412.9,594.4 L413.8,593.8 L414.8,593.2 L415.8,592.7 L416.9,592.3 L418.0,591.8 L419.1,591.4 L420.1,590.8 L420.9,590.2 L421.6,589.5 L422.2,588.7 L422.6,587.8 L422.9,586.7 L423.1,585.6 L423.2,584.5 L423.2,583.3 L423.3,582.1 L423.4,580.9 L423.5,579.8 L423.8,578.8 L424.2,577.9 L424.8,577.1 L425.5,576.3 L426.4,575.7 L427.4,575.2 L428.4,574.7 L429.5,574.3 L430.6,573.8 L431.7,573.3 L432.7,572.8 L433.5,572.2 L434.3,571.5 L434.8,570.7 L435.3,569.7 L435.5,568.7 L435.7,567.6 L435.8,566.4 L435.8,565.3 L435.9,564.1 L436.0,562.9 L436.1,561.8 L436.4,560.8 L436.8,559.9 L437.4,559.0 L438.1,558.3 L439.0,557.7 L440.0,557.2 L441.0,556.7 L442.2,556.2 L443.3,555.8 L444.3,555.3 M383.5,654.3 L384.4,653.7 L385.3,653.2 L386.4,652.7 L387.5,652.3 L388.6,651.8 L389.7,651.3 L390.6,650.8 L391.5,650.2 L392.2,649.5 L392.8,648.7 L393.2,647.7 L393.5,646.7 L393.7,645.6 L393.8,644.4 L393.8,643.3 L393.9,642.1 L393.9,640.9 L394.1,639.8 L394.4,638.8 L394.8,637.9 L395.4,637.0 L396.1,636.3 L397.0,635.7 L398.0,635.2 L399.0,634.7 L400.1,634.2 L401.2,633.8 L402.3,633.3 L403.3,632.8 L404.1,632.2 L404.8,631.5 L405.4,630.6 L405.8,629.7 L406.1,628.7 L406.3,627.6 L406.4,626.4 L406.4,625.2 L406.5,624.0 L406.6,622.9 L406.7,621.8 L407.0,620.8 L407.4,619.8 L408.0,619.0 L408.7,618.3 L409.6,617.7 L410.6,617.1 L411.6,616.7 L412.7,616.2 L413.8,615.8 L414.9,615.3 L415.9,614.8 L416.7,614.1 L417.5,613.4 L418.0,612.6 L418.5,611.7 L418.7,610.7 L418.9,609.6 L419.0,608.4 L419.0,607.2 L419.1,606.0 L419.2,604.9 L419.3,603.8 L419.6,602.7 L420.0,601.8 L420.6,601.0 L421.3,600.3 L422.2,599.7 L423.2,599.1 L424.2,598.6 L425.4,598.2 L426.5,597.8 L427.5,597.3 L428.5,596.7 L429.4,596.1 L430.1,595.4 L430.7,594.6 L431.1,593.7 L431.4,592.6 L431.5,591.5 L431.6,590.4 L431.7,589.2 L431.7,588.0 L431.8,586.8 L432.0,585.7 L432.2,584.7 L432.7,583.8 L433.2,583.0 L434.0,582.3 L434.8,581.6 L435.8,581.1 L436.9,580.6 L438.0,580.2 L439.1,579.7 L440.1,579.3 L441.1,578.7 L442.0,578.1 L442.7,577.4 L443.3,576.6 L443.7,575.6 L444.0,574.6 L444.2,573.5 L444.2,572.4 L444.3,571.2 L444.3,570.0 L444.4,568.8 L444.6,567.7 L444.9,566.7 L445.3,565.8 L445.9,564.9 L446.6,564.2 L447.4,563.6 L448.4,563.1 L449.5,562.6 L450.6,562.2 L451.7,561.7 L452.8,561.2 L453.7,560.7 L454.6,560.1 M401.2,654.6 L401.7,653.6 L401.9,652.6 L402.1,651.5 L402.2,650.4 L402.2,649.2 L402.3,648.0 L402.4,646.8 L402.5,645.7 L402.8,644.7 L403.2,643.8 L403.8,642.9 L404.5,642.2 L405.4,641.6 L406.4,641.1 L407.4,640.6 L408.6,640.1 L409.7,639.7 L410.7,639.2 L411.7,638.7 L412.6,638.1 L413.3,637.4 L413.9,636.5 L414.3,635.6 L414.6,634.6 L414.7,633.5 L414.8,632.3 L414.9,631.1 L414.9,629.9 L415.0,628.8 L415.2,627.7 L415.4,626.7 L415.9,625.7 L416.4,624.9 L417.2,624.2 L418.0,623.6 L419.0,623.1 L420.1,622.6 L421.2,622.1 L422.3,621.7 L423.3,621.2 L424.3,620.7 L425.2,620.1 L425.9,619.3 L426.5,618.5 L426.9,617.6 L427.2,616.6 L427.4,615.5 L427.4,614.3 L427.5,613.1 L427.5,611.9 L427.6,610.8 L427.8,609.7 L428.1,608.6 L428.5,607.7 L429.1,606.9 L429.8,606.2 L430.6,605.6 L431.6,605.0 L432.7,604.6 L433.8,604.1 L434.9,603.7 L436.0,603.2 L436.9,602.6 L437.8,602.0 L438.5,601.3 L439.1,600.5 L439.5,599.6 L439.8,598.6 L440.0,597.4 L440.1,596.3 L440.1,595.1 L440.1,593.9 L440.2,592.7 L440.4,591.6 L440.7,590.6 L441.1,589.7 L441.7,588.9 L442.4,588.2 L443.3,587.5 L444.2,587.0 L445.3,586.5 L446.4,586.1 L447.5,585.6 L448.6,585.2 L449.6,584.6 L450.4,584.0 L451.1,583.3 L451.7,582.5 L452.1,581.6 L452.4,580.5 L452.6,579.4 L452.7,578.3 L452.7,577.1 L452.8,575.9 L452.8,574.7 L453.0,573.6 L453.3,572.6 L453.7,571.7 L454.3,570.9 M410.7,653.9 L410.8,652.7 L411.0,651.6 L411.3,650.6 L411.7,649.7 L412.3,648.8 L413.0,648.1 L413.8,647.5 L414.8,647.0 L415.9,646.5 L417.0,646.1 L418.1,645.6 L419.2,645.1 L420.1,644.6 L421.0,644.0 L421.7,643.3 L422.3,642.4 L422.7,641.5 L423.0,640.5 L423.2,639.4 L423.3,638.2 L423.3,637.0 L423.3,635.9 L423.4,634.7 L423.6,633.6 L423.9,632.6 L424.3,631.6 L424.9,630.8 L425.6,630.1 L426.5,629.5 L427.4,629.0 L428.5,628.5 L429.6,628.0 L430.7,627.6 L431.8,627.1 L432.8,626.6 L433.6,626.0 L434.3,625.2 L434.9,624.4 L435.3,623.5 L435.6,622.5 L435.8,621.4 L435.9,620.2 L435.9,619.0 L436.0,617.8 L436.0,616.7 L436.2,615.6 L436.5,614.5 L436.9,613.6 L437.5,612.8 L438.2,612.1 L439.1,611.5 L440.1,610.9 L441.1,610.5 L442.2,610.0 L443.3,609.6 L444.4,609.1 L445.4,608.6 L446.2,607.9 L447.0,607.2 L447.5,606.4 L448.0,605.5 L448.2,604.5 L448.4,603.4 L448.5,602.2 L448.5,601.0 L448.6,599.8 L448.7,598.7 L448.8,597.5 L449.1,596.5 L449.5,595.6 L450.1,594.8 L450.8,594.1 L451.7,593.5 L452.7,592.9 L453.7,592.4 L454.8,592.0 M420.7,654.8 L421.4,654.0 L422.3,653.4 L423.3,652.9 L424.3,652.4 L425.4,652.0 L426.5,651.5 L427.6,651.0 L428.6,650.5 L429.4,649.9 L430.2,649.2 L430.7,648.4 L431.2,647.4 L431.4,646.4 L431.6,645.3 L431.7,644.1 L431.7,643.0 L431.8,641.8 L431.9,640.6 L432.0,639.5 L432.3,638.5 L432.7,637.6 L433.3,636.7 L434.0,636.0 L434.9,635.4 L435.9,634.9 L436.9,634.4 L438.0,633.9 L439.2,633.5 L440.2,633.0 L441.2,632.5 L442.1,631.9 L442.8,631.2 L443.4,630.3 L443.8,629.4 L444.1,628.4 L444.2,627.3 L444.3,626.1 L444.4,624.9 L444.4,623.7 L444.5,622.6 L444.7,621.5 L444.9,620.5 L445.4,619.5 L445.9,618.7 L446.7,618.0 L447.5,617.4 L448.5,616.8 L449.6,616.4 L450.7,615.9 L451.8,615.5 L452.8,615.0 L453.8,614.5 L454.7,613.8 M439.2,654.3 L439.6,653.3 L439.9,652.3 L440.0,651.2 L440.1,650.1 L440.2,648.9 L440.2,647.7 L440.3,646.5 L440.5,645.4 L440.8,644.4 L441.2,643.5 L441.8,642.6 L442.5,641.9 L443.3,641.3 L444.3,640.8 L445.4,640.3 L446.5,639.9 L447.6,639.4 L448.7,638.9 L449.6,638.4 L450.5,637.8 L451.2,637.1 L451.8,636.2 L452.2,635.3 L452.5,634.3 L452.7,633.2 L452.8,632.0 L452.8,630.8 L452.8,629.6 L452.9,628.5 L453.1,627.4 L453.4,626.4 L453.8,625.4 L454.4,624.6" fill="none" stroke="#d5604b" stroke-width="2" stroke-linecap="round"/></g>
</svg>

<div class="t" style="left:88px;top:732.56px;font-size:18.6px;line-height:21.8px;font-weight:400;color:#141414;"><span style="display:inline-block;transform:scaleX(1.0111);transform-origin:0 0">Bij lage temperaturen zorgt deze functie dat</span><br><span style="display:inline-block;transform:scaleX(1.0128);transform-origin:0 0">de volledige voorruit wordt verwarmd; het is</span><br><span style="display:inline-block;transform:scaleX(1.0091);transform-origin:0 0">een aanvulling op het Automatisch programma</span><br><span style="display:inline-block;transform:scaleX(1.0245);transform-origin:0 0">Zicht dat elementen weghaalt die het zicht</span><br><span style="display:inline-block;transform:scaleX(0.9847);transform-origin:0 0">kunnen belemmeren (zoals dauw, mist, ijs of</span><br><span style="display:inline-block;transform:scaleX(0.9783);transform-origin:0 0">sneeuw), dat zich aan beide zijden van de</span><br><span style="display:inline-block;transform:scaleX(1.0295);transform-origin:0 0">voorruit bevindt.</span><br>Het kan zowel bij wegrijden als onder het rijden<br><span style="display:inline-block;transform:scaleX(1.0189);transform-origin:0 0">worden gebruikt.</span></div>
<div class="t" style="left:513.5px;top:84.41px;font-size:18.6px;line-height:21.7px;font-weight:700;color:#0c0c0c;letter-spacing:0.4px;-webkit-text-stroke:0.6px #0c0c0c;">Inschakelen / uitschakelen</div>
<svg class="im" style="left:518px;top:112px" width="385" height="310" viewBox="518 112 385 310">
<defs><linearGradient id="midg" x1="0" y1="0" x2="0" y2="1"><stop offset="0" stop-color="#c2c2c2"/><stop offset="1" stop-color="#cfcfcf"/></linearGradient>
<linearGradient id="ridg" x1="0" y1="0" x2="0" y2="1"><stop offset="0" stop-color="#b4b4b4"/><stop offset="1" stop-color="#cccccc"/></linearGradient>
<linearGradient id="recg" x1="0" y1="0" x2="0" y2="1"><stop offset="0" stop-color="#999999"/><stop offset="1" stop-color="#b8b8b8"/></linearGradient><linearGradient id="kshadow" x1="0.2" y1="0" x2="0.8" y2="1"><stop offset="0" stop-color="#8c8c8c"/><stop offset="0.6" stop-color="#b0b0b0"/><stop offset="1" stop-color="#d8d8d8"/></linearGradient><linearGradient id="rimg" x1="0" y1="0" x2="1" y2="1"><stop offset="0" stop-color="#bdbdbd"/><stop offset="0.6" stop-color="#d0d0d0"/><stop offset="1" stop-color="#cacaca"/></linearGradient>
<linearGradient id="dg1" x1="0" y1="0" x2="0" y2="1"><stop offset="0" stop-color="#c4c4c4"/><stop offset="1" stop-color="#b2b2b2"/></linearGradient>
<linearGradient id="rim" x1="0" y1="0" x2="1" y2="0"><stop offset="0" stop-color="#a8a8a8"/><stop offset="0.5" stop-color="#cdcdcd"/><stop offset="1" stop-color="#b8b8b8"/></linearGradient>
<linearGradient id="rim2" x1="0" y1="0" x2="0" y2="1"><stop offset="0" stop-color="#b9b9b9"/><stop offset="0.55" stop-color="#e2e2e2"/><stop offset="1" stop-color="#bdbdbd"/></linearGradient>
<linearGradient id="hub" x1="0" y1="0" x2="1" y2="0"><stop offset="0" stop-color="#bcbcbc"/><stop offset="1" stop-color="#a8a8a8"/></linearGradient>
<linearGradient id="panel" x1="0" y1="0" x2="0" y2="1"><stop offset="0" stop-color="#dedede"/><stop offset="1" stop-color="#d2d2d2"/></linearGradient>
<radialGradient id="knobring" cx="0.5" cy="0.5" r="0.5"><stop offset="0.7" stop-color="#f0f0f0"/><stop offset="0.85" stop-color="#a8a8a8"/><stop offset="1" stop-color="#c4c4c4"/></radialGradient>
<radialGradient id="knob" cx="0.5" cy="0.45" r="0.55"><stop offset="0" stop-color="#f4f4f4"/><stop offset="1" stop-color="#d0d0d0"/></radialGradient>
</defs>
<!-- base -->
<rect x="518" y="112" width="385" height="310" fill="#cacaca"/>
<!-- mid area -->
<path d="M518,112 L680,112 C690,150 705,180 728,205 L518,195 Z" fill="url(#midg)"/>
<!-- top-left dash shape -->
<path d="M518,112 L599,112 C595,136 584,151 562,153 L518,154 Z" fill="#d6d6d6"/>
<path d="M518,112 L591,112 C588,128 580,141 557.6,143.5 L518,143.5 Z" fill="#a9a9a9"/>
<path d="M518,113 L557,113 C552,117 548,118 540,118 L518,118 Z" fill="#c8c8c8"/>
<!-- through wheel background light -->
<path d="M732,112 L903,112 L903,262 L760,240 C740,200 735,150 732,112 Z" fill="#d4d4d4"/>
<!-- hub -->
<path d="M838,112 L903,112 L903,206 L872,205 C852,200 843,182 840,150 Z" fill="url(#hub)"/>
<!-- column -->
<path d="M816,121 L836,118 L849,204 L828,206 Z" fill="#d8d8d8" stroke="#a4a4a4" stroke-width="0.8"/>
<!-- upper spoke -->
<path d="M733,112 L801,112 C808,118 816,124 818,131 L817,153 C790,142 760,132 745,132 Z" fill="#c6c6c6"/><path d="M760,116 C780,124 800,134 817,140" fill="none" stroke="#d8d8d8" stroke-width="6"/>
<!-- ridge: top of lower dash -->
<path d="M518,186 C600,186 700,191 780,196 L780,230 L518,228 Z" fill="url(#ridg)"/>
<path d="M518,184.5 C600,184.5 700,189.5 780,194.5 L780,197.5 C700,192.5 600,188 518,188 Z" fill="#e6e6e6"/>
<path d="M533,214 L780,216 L780,229 L533,228 Z" fill="#e0e0e0"/>
<!-- panel -->
<path d="M529,226 L780,228 C790,235 800,250 805,290 L903,290 L903,422 L529,422 Z" fill="url(#panel)"/>
<rect x="518" y="188" width="11" height="234" fill="#a9a9a9"/>
<rect x="529" y="193" width="4" height="229" fill="#e6e6e6"/>
<!-- under rim region -->
<path d="M760,245 C800,250 860,262 903,265 L903,290 L760,290 Z" fill="#cdcdcd"/>
<rect x="817" y="262" width="11" height="28" fill="#e8e8e8"/>
<!-- recess -->
<path d="M549,232 C549,229 551,227.5 554,227.5 L785,228.5 L785,246 L549,246 Z" fill="url(#recg)"/>
<path d="M549,232 L556,232 L556,298 L549,298 Z" fill="#bcbcbc"/>
<rect x="556" y="245" width="228" height="36" fill="#e4e4e4"/>
<!-- RIM -->
<clipPath id="rimclip"><rect x="518" y="112" width="385" height="310"/></clipPath>
<g clip-path="url(#rimclip)" fill="none" stroke-linecap="butt">
<path d="M697,100 C716,152 748,196 790,218 C830,234 870,237 920,238" stroke="#a6a6a6" stroke-width="57"/>
<path d="M697,100 C716,152 748,196 790,218 C830,234 870,237 920,238" stroke="#bababa" stroke-width="50"/>
<path d="M695,102 C714,154 745,199 787,221 C827,237 868,240 920,241" stroke="#c9c9c9" stroke-width="38"/>
<path d="M692,104 C711,157 741,203 783,225 C823,241 866,244 920,245" stroke="#d5d5d5" stroke-width="20"/>
<path d="M690,106 C709,160 738,206 780,228 C820,244 864,247 920,248" stroke="#e0e0e0" stroke-width="7"/>
<path d="M769,189 C760,200 756,215 759,230" stroke="#e6e6e6" stroke-width="2"/>
<path d="M772,188 C763,200 759,215 762,230" stroke="#a8a8a8" stroke-width="1"/>
</g>
<!-- small switch -->
<rect x="558.6" y="248.5" width="34.6" height="29.8" fill="#dcdcdc" stroke="#8c8c8c" stroke-width="1"/>
<rect x="561" y="251" width="14" height="25" fill="#ececec" stroke="#9a9a9a" stroke-width="0.8"/>
<circle cx="567" cy="263" r="3" fill="none" stroke="#555" stroke-width="0.9"/>
<circle cx="582" cy="263" r="1.6" fill="#666"/>
<!-- button strip -->
<rect x="607.7" y="250" width="161.5" height="29" fill="#e6e6e6" stroke="#7c7c7c" stroke-width="1.1"/>
<g stroke="#8a8a8a" stroke-width="0.9"><line x1="640.3" y1="250" x2="640.3" y2="279"/><line x1="672.1" y1="250" x2="672.1" y2="279"/><line x1="703.9" y1="250" x2="703.9" y2="279"/><line x1="736.5" y1="250" x2="736.5" y2="279"/></g>
<g fill="#888" stroke="#666" stroke-width="0.5">
<rect x="616" y="253.8" width="18" height="3.6" rx="1.5"/><rect x="648" y="254.2" width="18" height="3.6" rx="1.5"/><rect x="680" y="254.6" width="18" height="3.6" rx="1.5"/><rect x="711.5" y="254.9" width="18" height="3.6" rx="1.5"/><rect x="745" y="255.3" width="18" height="3.6" rx="1.5"/></g>
<g fill="none" stroke="#444" stroke-width="0.9">
<path d="M618,270 L624,261 L630,270 Z"/><path d="M646,268 C648,263 656,262 664,264 L666,268 Z"/><path d="M682,265 Q689,262 696,265 L693,270 Q689,268 685,270 Z"/>
<circle cx="719" cy="269" r="4"/><path d="M715,269 L723,269 M719,265 L719,273"/><path d="M747,271 Q752,265 760,268 L762,271 Z"/></g>
<g fill="#444" font-family="Liberation Sans" font-size="4.5" font-weight="700"><text x="620" y="276">OFF</text><text x="651" y="277">OFF</text></g>
<!-- knob -->
<circle cx="621.6" cy="335.3" r="40" fill="url(#kshadow)"/>
<circle cx="621.6" cy="337" r="36" fill="#cacaca"/>
<circle cx="621.6" cy="336" r="31.5" fill="#f2f2f2"/>
<circle cx="621.6" cy="336" r="28.5" fill="url(#knob)" stroke="#9a9a9a" stroke-width="0.8"/>
<g stroke="#9c9c9c" stroke-width="2.2" stroke-linecap="round"><path d="M602,317 L614,329 M641,317 L629,329 M602,355 L614,343 M641,355 L629,343"/></g>
<circle cx="621.6" cy="336" r="9" fill="#e8e8e8" stroke="#8a8a8a" stroke-width="1"/>
<path d="M617,334 Q621.6,331 626,334 L625,338 Q621.6,336 618,338 Z" fill="none" stroke="#444" stroke-width="0.9"/>
<path d="M619,312 L621.6,308 L624,312 Z M619,360 L621.6,364 L624,360 Z" fill="none" stroke="#444" stroke-width="0.8"/>
<circle cx="643" cy="336" r="2" fill="none" stroke="#555" stroke-width="0.8"/>
<path d="M600,333 A3,3 0 1 0 603,338" fill="none" stroke="#555" stroke-width="0.8"/>
<!-- panel groove -->
<path d="M529,378 L780,382" stroke="#8e8e8e" stroke-width="2.2"/>
<path d="M529,381 L780,385" stroke="#ececec" stroke-width="1.5"/>
<rect x="529" y="385" width="250" height="37" fill="#dcdcdc"/>
<rect x="518" y="378" width="11" height="44" fill="#a8a8a8"/>
<!-- right side strip near callout -->
<rect x="899" y="290" width="4" height="132" fill="#9c9c9c"/>
<!-- callout -->
<path d="M777.5,287.5 L899.5,287.5 L899.5,419 L777.5,419 L777.5,326 L697.2,272.6 L777.5,306 Z" fill="#ffffff" stroke="#111" stroke-width="2" stroke-linejoin="miter"/>
<rect x="791.1" y="304.2" width="97.7" height="103.1" rx="2" fill="#d9d9d9" stroke="#333" stroke-width="1.4"/>
<rect x="805.3" y="319.5" width="69.3" height="14.4" rx="3" fill="#8c8c8c" stroke="#444" stroke-width="1.2"/>
<g fill="none" stroke="#111" stroke-width="3.2" stroke-linejoin="miter">
<path d="M811.5,359.9 Q838,345 865.2,359.9 L851,382.3 Q838,373 826.9,382.3 Z"/>
<path d="M820.4,369.3 L826.3,369.3 L829.6,363.4 L835.1,371 L840.4,361.6 L845.1,371 L849.3,361 L853.4,369.3 L857.5,369.3"/>
</g>
</svg>

<svg class="ic" style="left:515px;top:442px" width="17" height="15" viewBox="0 0 17 15"><path d="M0.5 0.5 L16.5 7.5 L0.5 14.5 Z" fill="#111"/></svg><div class="t" style="left:541px;top:439.71px;font-size:18.6px;line-height:21.7px;font-weight:400;color:#141414;"><span style="display:inline-block;transform:scaleX(1.0105);transform-origin:0 0">Druk met draaiende motor op deze toets</span><br><span style="display:inline-block;transform:scaleX(1.0133);transform-origin:0 0">om de functie in of uit te schakelen</span><br>(bevestigd door een controlelampje).</div>
<div class="t" style="left:513px;top:516.41px;font-size:18.6px;line-height:21.7px;font-weight:400;color:#141414;"><span style="display:inline-block;transform:scaleX(0.9827);transform-origin:0 0">De werkingsduur is afhankelijk van de</span><br><span style="display:inline-block;transform:scaleX(1.0284);transform-origin:0 0">buitentemperatuur.</span><br><span style="display:inline-block;transform:scaleX(1.0143);transform-origin:0 0">Deze functie wordt automatisch uitgeschakeld</span><br>om een te hoog energieverbruik te voorkomen.</div>
<div class="t" style="left:513px;top:621.63px;font-size:30.5px;line-height:36px;font-weight:400;color:#737373;transform:scaleX(1.11);transform-origin:0 0;-webkit-text-stroke:0.9px #737373;">Open dak</div>
<div class="t" style="left:513px;top:672.31px;font-size:18.6px;line-height:21.7px;font-weight:400;color:#141414;">Het open dak bestaat uit een beweegbaar<br>glazen paneel dat over het dak schuift en een<br>zonnescherm dat apart geopend kan worden.<br>Als het schuif- / kanteldak wordt geopend,<br><span style="display:inline-block;transform:scaleX(1.0115);transform-origin:0 0">opent automatisch het zonnescherm.</span></div>
<svg class="ic" style="left:515px;top:795.5px" width="17" height="15" viewBox="0 0 17 15"><path d="M0.5 0.5 L16.5 7.5 L0.5 14.5 Z" fill="#111"/></svg><div class="t" style="left:541px;top:792.71px;font-size:18.6px;line-height:21.7px;font-weight:400;color:#141414;"><span style="display:inline-block;transform:scaleX(0.9914);transform-origin:0 0">Gebruik de knop in de dakconsole om</span><br>het panoramische schuif- / kanteldak te<br>bedienen.</div>
<svg class="im" style="left:943px;top:84px" width="386" height="310" viewBox="943 84 386 310">
<defs>
<linearGradient id="rfr" x1="0" y1="0" x2="0" y2="1"><stop offset="0" stop-color="#b0b0b0"/><stop offset="0.15" stop-color="#9a9a9a"/><stop offset="0.45" stop-color="#666666"/><stop offset="1" stop-color="#585858"/></linearGradient>
<linearGradient id="rff" x1="0" y1="0" x2="0" y2="1"><stop offset="0" stop-color="#5a5a5a"/><stop offset="1" stop-color="#4c4c4c"/></linearGradient>
</defs>
<rect x="943" y="84" width="385" height="309" fill="#525252"/>
<!-- console outer frame -->
<path d="M950,393 L950,160 C950,112 972,95 1012,93 C1100,90 1210,90 1268,96 C1305,100 1318,120 1320,160 L1322,303 L1304,303 C1290,340 1240,375 1201,393 Z" fill="url(#rfr)"/>
<path d="M958,160 C958,118 978,100 1014,98 C1100,95 1210,95 1266,101 C1298,105 1310,122 1312,160" fill="none" stroke="#c8c8c8" stroke-width="2" opacity="0.8"/>
<!-- inner face -->
<path d="M972,393 L972,175 C972,135 990,122 1020,121 C1100,119 1210,119 1262,123 C1290,126 1298,140 1298,175 L1298,300 C1285,335 1240,372 1201,393 Z" fill="url(#rff)"/>
<!-- right pillar light strip -->
<path d="M1298,150 C1306,200 1308,250 1304,303 L1296,303 C1300,250 1298,200 1292,150 Z" fill="#8a8a8a"/>
<!-- left side lines -->
<path d="M962,165 C960,210 962,260 966,300" fill="none" stroke="#6a6a6a" stroke-width="1.5"/>
<!-- perforated panel -->
<path d="M1014,127 C1100,123 1200,123 1255,128 C1277,132 1290,148 1290,160 C1290,178 1272,186 1255,187 L1028,187 C1008,184 992,175 983,164 C990,148 1000,134 1014,127 Z" fill="#4e4e4e" stroke="#e4e4e4" stroke-width="1.6"/>
<path d="M993.2,161.0h0.6M993.2,167.9h0.6M1002.5,150.7h0.6M1002.5,157.6h0.6M1002.5,164.5h0.6M1002.5,171.4h0.6M1011.8,140.3h0.6M1011.8,147.3h0.6M1011.8,154.1h0.6M1011.8,161.0h0.6M1011.8,167.9h0.6M1011.8,174.8h0.6M1021.2,130.0h0.6M1021.2,136.9h0.6M1021.2,143.8h0.6M1021.2,150.7h0.6M1021.2,157.6h0.6M1021.2,164.5h0.6M1021.2,171.4h0.6M1021.2,178.3h0.6M1030.6,133.4h0.6M1030.6,140.3h0.6M1030.6,147.3h0.6M1030.6,154.1h0.6M1030.6,161.0h0.6M1030.6,167.9h0.6M1030.6,174.8h0.6M1030.6,181.7h0.6M1039.9,130.0h0.6M1039.9,136.9h0.6M1039.9,143.8h0.6M1039.9,150.7h0.6M1039.9,157.6h0.6M1039.9,164.5h0.6M1039.9,171.4h0.6M1039.9,178.3h0.6M1039.9,185.2h0.6M1049.3,133.4h0.6M1049.3,140.3h0.6M1049.3,147.3h0.6M1049.3,154.1h0.6M1049.3,161.0h0.6M1049.3,167.9h0.6M1049.3,174.8h0.6M1049.3,181.7h0.6M1058.6,130.0h0.6M1058.6,136.9h0.6M1058.6,143.8h0.6M1058.6,150.7h0.6M1058.6,157.6h0.6M1058.6,164.5h0.6M1058.6,171.4h0.6M1058.6,178.3h0.6M1058.6,185.2h0.6M1068.0,133.4h0.6M1068.0,140.3h0.6M1068.0,147.3h0.6M1068.0,154.1h0.6M1068.0,161.0h0.6M1068.0,167.9h0.6M1068.0,174.8h0.6M1068.0,181.7h0.6M1077.3,130.0h0.6M1077.3,136.9h0.6M1077.3,143.8h0.6M1077.3,150.7h0.6M1077.3,157.6h0.6M1077.3,164.5h0.6M1077.3,171.4h0.6M1077.3,178.3h0.6M1077.3,185.2h0.6M1086.6,133.4h0.6M1086.6,140.3h0.6M1086.6,147.3h0.6M1086.6,154.1h0.6M1086.6,161.0h0.6M1086.6,167.9h0.6M1086.6,174.8h0.6M1086.6,181.7h0.6M1096.0,130.0h0.6M1096.0,136.9h0.6M1096.0,143.8h0.6M1096.0,150.7h0.6M1096.0,157.6h0.6M1096.0,164.5h0.6M1096.0,171.4h0.6M1096.0,178.3h0.6M1096.0,185.2h0.6M1105.3,133.4h0.6M1105.3,140.3h0.6M1105.3,147.3h0.6M1105.3,154.1h0.6M1105.3,161.0h0.6M1105.3,167.9h0.6M1105.3,174.8h0.6M1105.3,181.7h0.6M1114.7,130.0h0.6M1114.7,136.9h0.6M1114.7,143.8h0.6M1114.7,150.7h0.6M1114.7,157.6h0.6M1114.7,164.5h0.6M1114.7,171.4h0.6M1114.7,178.3h0.6M1114.7,185.2h0.6M1124.0,133.4h0.6M1124.0,140.3h0.6M1124.0,147.3h0.6M1124.0,154.1h0.6M1124.0,161.0h0.6M1124.0,167.9h0.6M1124.0,174.8h0.6M1124.0,181.7h0.6M1133.4,130.0h0.6M1133.4,136.9h0.6M1133.4,143.8h0.6M1133.4,150.7h0.6M1133.4,157.6h0.6M1133.4,164.5h0.6M1133.4,171.4h0.6M1133.4,178.3h0.6M1133.4,185.2h0.6M1142.8,133.4h0.6M1142.8,140.3h0.6M1142.8,147.3h0.6M1142.8,154.1h0.6M1142.8,161.0h0.6M1142.8,167.9h0.6M1142.8,174.8h0.6M1142.8,181.7h0.6M1152.1,130.0h0.6M1152.1,136.9h0.6M1152.1,143.8h0.6M1152.1,150.7h0.6M1152.1,157.6h0.6M1152.1,164.5h0.6M1152.1,171.4h0.6M1152.1,178.3h0.6M1152.1,185.2h0.6M1161.5,133.4h0.6M1161.5,140.3h0.6M1161.5,147.3h0.6M1161.5,154.1h0.6M1161.5,161.0h0.6M1161.5,167.9h0.6M1161.5,174.8h0.6M1161.5,181.7h0.6M1170.8,130.0h0.6M1170.8,136.9h0.6M1170.8,143.8h0.6M1170.8,150.7h0.6M1170.8,157.6h0.6M1170.8,164.5h0.6M1170.8,171.4h0.6M1170.8,178.3h0.6M1170.8,185.2h0.6M1180.1,133.4h0.6M1180.1,140.3h0.6M1180.1,147.3h0.6M1180.1,154.1h0.6M1180.1,161.0h0.6M1180.1,167.9h0.6M1180.1,174.8h0.6M1180.1,181.7h0.6M1189.5,130.0h0.6M1189.5,136.9h0.6M1189.5,143.8h0.6M1189.5,150.7h0.6M1189.5,157.6h0.6M1189.5,164.5h0.6M1189.5,171.4h0.6M1189.5,178.3h0.6M1189.5,185.2h0.6M1198.8,133.4h0.6M1198.8,140.3h0.6M1198.8,147.3h0.6M1198.8,154.1h0.6M1198.8,161.0h0.6M1198.8,167.9h0.6M1198.8,174.8h0.6M1198.8,181.7h0.6M1208.2,130.0h0.6M1208.2,136.9h0.6M1208.2,143.8h0.6M1208.2,150.7h0.6M1208.2,157.6h0.6M1208.2,164.5h0.6M1208.2,171.4h0.6M1208.2,178.3h0.6M1208.2,185.2h0.6M1217.6,133.4h0.6M1217.6,140.3h0.6M1217.6,147.3h0.6M1217.6,154.1h0.6M1217.6,161.0h0.6M1217.6,167.9h0.6M1217.6,174.8h0.6M1217.6,181.7h0.6M1226.9,130.0h0.6M1226.9,136.9h0.6M1226.9,143.8h0.6M1226.9,150.7h0.6M1226.9,157.6h0.6M1226.9,164.5h0.6M1226.9,171.4h0.6M1226.9,178.3h0.6M1226.9,185.2h0.6M1236.3,133.4h0.6M1236.3,140.3h0.6M1236.3,147.3h0.6M1236.3,154.1h0.6M1236.3,161.0h0.6M1236.3,167.9h0.6M1236.3,174.8h0.6M1236.3,181.7h0.6M1245.6,130.0h0.6M1245.6,136.9h0.6M1245.6,143.8h0.6M1245.6,150.7h0.6M1245.6,157.6h0.6M1245.6,164.5h0.6M1245.6,171.4h0.6M1245.6,178.3h0.6M1245.6,185.2h0.6M1255.0,140.3h0.6M1255.0,147.3h0.6M1255.0,154.1h0.6M1255.0,161.0h0.6M1255.0,167.9h0.6M1255.0,174.8h0.6M1255.0,181.7h0.6M1264.3,150.7h0.6M1264.3,157.6h0.6M1264.3,164.5h0.6M1264.3,171.4h0.6M1264.3,178.3h0.6M1273.6,154.1h0.6M1273.6,161.0h0.6M1273.6,167.9h0.6M1283.0,164.5h0.6" fill="none" stroke="#f0f0f0" stroke-width="3.2" stroke-linecap="round"/>
<g stroke="#f4f4f4" stroke-width="1.8" stroke-linecap="round"><path d="M1013,146 L1036,156 M1022,143 L1046,153 M1035,161 L1058,171 M1044,158 L1066,168"/>
<path d="M1216,165 L1238,155 M1224,168 L1246,158 M1236,150 L1260,141 M1242,154 L1262,146"/></g>
<!-- trapezoid recesses -->
<path d="M1018,205 L1055,204 L1068,210 L1068,236 L1024,236 Z" fill="#535353" stroke="#8a8a8a" stroke-width="1.1"/>
<path d="M1205,208 L1252,204 L1250,234 L1201,236 Z" fill="#535353" stroke="#8a8a8a" stroke-width="1.1"/>
<!-- stitching -->
<path d="M990,233 C1020,240 1050,247 1077,251" fill="none" stroke="#b8b8b8" stroke-width="1.1" stroke-dasharray="3,1.5"/>
<path d="M1189,250 C1220,245 1250,238 1280,233" fill="none" stroke="#b8b8b8" stroke-width="1.1" stroke-dasharray="3,1.5"/>
<!-- center button housing -->
<rect x="1112" y="191" width="45" height="46" rx="2" fill="#6a6a6a" stroke="#a8a8a8" stroke-width="1.2"/>
<rect x="1116" y="197" width="39" height="36" rx="6" fill="#1c1c1c"/>
<rect x="1126" y="212" width="18" height="8" fill="#f0f0f0"/>
<path d="M1128,215.5 L1142,215.5" stroke="#1c1c1c" stroke-width="1"/>
<!-- lower console: center bezel -->
<path d="M1092,262 L1176,262 C1180,262 1183,265 1183,270 L1183,316 C1183,321 1180,323 1176,323 L1092,323 C1087,323 1084,321 1084,316 L1084,270 C1084,265 1087,262 1092,262 Z" fill="#3e3e3e" stroke="#a6a6a6" stroke-width="4"/>
<path d="M1096,276 C1100,266 1165,264 1172,272 L1168,290 C1150,286 1110,286 1100,292 Z" fill="#505050" stroke="#c8c8c8" stroke-width="2"/>
<g fill="none" stroke="#dddddd" stroke-width="1"><circle cx="1112" cy="281" r="2"/><rect x="1128" y="276" width="10" height="6"/><circle cx="1153" cy="283" r="2.5"/></g>
<!-- right button -->
<path d="M1196,266 L1250,264 C1256,266 1256,288 1250,292 L1196,293 C1190,290 1190,270 1196,266 Z" fill="#484848" stroke="#d8d8d8" stroke-width="3"/>
<ellipse cx="1216" cy="300" rx="27" ry="13" fill="#484848" stroke="#c4c4c4" stroke-width="2.5"/>
<!-- left button -->
<path d="M1003,266 L1052,262 L1054,290 L1001,292 Z" fill="#484848" stroke="#d0d0d0" stroke-width="3"/>
<!-- bright lower rim -->
<path d="M1076,320 C1150,318 1230,322 1262,316 C1280,312 1292,300 1297,288 L1304,303 C1294,335 1262,360 1225,368 C1160,376 1100,372 1076,368 Z" fill="#c6c6c6"/>
<path d="M1078,334 L1190,334 L1190,358 L1078,358 Z" fill="#e4e4e4" stroke="#8c8c8c" stroke-width="1"/>
<circle cx="1217" cy="342" r="5" fill="#e8e8e8"/>
<g fill="none" stroke="#333" stroke-width="1.1"><path d="M1088,340 L1088,354 M1098,340 L1098,354 M1108,340 L1108,354 M1118,340 L1118,354"/><circle cx="1133" cy="347" r="5"/><rect x="1146" y="337" width="22" height="9"/><rect x="1146" y="348" width="22" height="8"/><rect x="1171" y="337" width="16" height="19"/></g>
<path d="M1076,368 C1100,372 1160,376 1225,368 L1201,393 L1076,393 Z" fill="#474747"/>
<!-- white corner bottom-right -->
<path d="M1304,303 L1329,303 L1329,394 L1200,394 C1240,374 1288,338 1304,303 Z" fill="#ffffff"/>
<!-- callout -->
<path d="M942,287 L1023,287 L1117,229 L1122,232 L1049,287 L1075.6,287 L1075.6,394 L942,394 Z" fill="#ffffff"/>
<path d="M942,287 L1023,287 L1118,230 M1121,232 L1049,287 L1075.6,287 L1075.6,394" fill="none" stroke="#111" stroke-width="2.2" stroke-linejoin="miter"/>
<rect x="975.4" y="307.5" width="65.6" height="65.1" rx="2" fill="#c9c9c9" stroke="#555" stroke-width="1.2"/>
<rect x="987" y="324" width="42" height="30.6" rx="3" fill="#151515"/>
<rect x="990" y="327" width="36" height="12" rx="1" fill="#c9c9c9"/>
<path d="M1002,337.5 L1008,328.5 L1014,337.5 Z" fill="#151515"/>
<path d="M1002,342 L1014,342 L1008,351.5 Z" fill="#c9c9c9"/>
</svg>

<div class="t" style="left:938.5px;top:399.71px;font-size:18.6px;line-height:21.7px;font-weight:400;color:#141414;">Het open dak kan worden bediend bij<br><span style="display:inline-block;transform:scaleX(0.9923);transform-origin:0 0">ingeschakeld contact (en voldoende laadniveau</span><br><span style="display:inline-block;transform:scaleX(0.9822);transform-origin:0 0">van de accu), bij draaiende motor, in de modus</span><br>STOP van de functie Stop &amp; Start en tot<br>maximaal 45 seconden na het afzetten van het<br><span style="display:inline-block;transform:scaleX(1.0369);transform-origin:0 0">contact.</span></div>
<div class="t" style="left:938.5px;top:542.33px;font-size:16.5px;line-height:21.7px;font-weight:700;color:#0c0c0c;letter-spacing:1.0px;-webkit-text-stroke:0.8px #0c0c0c;">Voorzorgsmaatregelen</div>
<div class="box" style="left:938.7px;top:573.7px;width:394.0999999999999px;height:109.79999999999995px;border-radius:12.5px"></div>
<svg class="ic" style="left:950px;top:588.5px" width="36" height="32" viewBox="0 0 36 32"><path d="M17.5 0.5 L35 31 L0 31 Z" fill="#e2353a"/><rect x="15.4" y="10" width="4.2" height="13" fill="#f4f0ee"/><rect x="15.4" y="25" width="4.2" height="3" fill="#f4f0ee"/></svg><div class="t" style="left:999.6px;top:587.83px;font-size:16.5px;line-height:21.7px;font-weight:700;color:#0c0c0c;letter-spacing:1.0px;-webkit-text-stroke:0.8px #0c0c0c;">Waarschuwing</div>
<div class="t" style="left:999.6px;top:608.71px;font-size:18.6px;line-height:21.7px;font-weight:400;color:#141414;"><span style="display:inline-block;transform:scaleX(1.0136);transform-origin:0 0">Steek uw hoofd of armen niet door het</span></div>
<div class="t" style="left:950px;top:630.41px;font-size:18.6px;line-height:21.7px;font-weight:400;color:#141414;">schuif- / kanteldak wanneer de auto rijdt -<br>kans op ernstig letsel!</div>
<div class="box" style="left:938.7px;top:695.9px;width:394.0999999999999px;height:177.0px;border-radius:12.5px"></div>
<svg class="ic" style="left:950px;top:711px" width="36" height="32" viewBox="0 0 36 32"><path d="M17.5 0.5 L35 31 L0 31 Z" fill="#e2353a"/><rect x="15.4" y="10" width="4.2" height="13" fill="#f4f0ee"/><rect x="15.4" y="25" width="4.2" height="3" fill="#f4f0ee"/></svg><div class="t" style="left:999.6px;top:710.03px;font-size:16.5px;line-height:21.7px;font-weight:700;color:#0c0c0c;letter-spacing:1.0px;-webkit-text-stroke:0.8px #0c0c0c;">Waarschuwing</div>
<div class="t" style="left:999.6px;top:730.91px;font-size:18.6px;line-height:21.7px;font-weight:400;color:#141414;">Controleer of de accessoires of</div>
<div class="t" style="left:950px;top:752.61px;font-size:18.6px;line-height:21.7px;font-weight:400;color:#141414;"><span style="display:inline-block;transform:scaleX(0.9853);transform-origin:0 0">vervoerde lading op de dakdragers de</span><br>beweging van het dak niet kunnen hinderen.<br>Leg geen zware voorwerpen op het<br><span style="display:inline-block;transform:scaleX(0.9906);transform-origin:0 0">beweegbare glazen deel van het schuif- /</span><br>kanteldak.</div>
</body></html>
